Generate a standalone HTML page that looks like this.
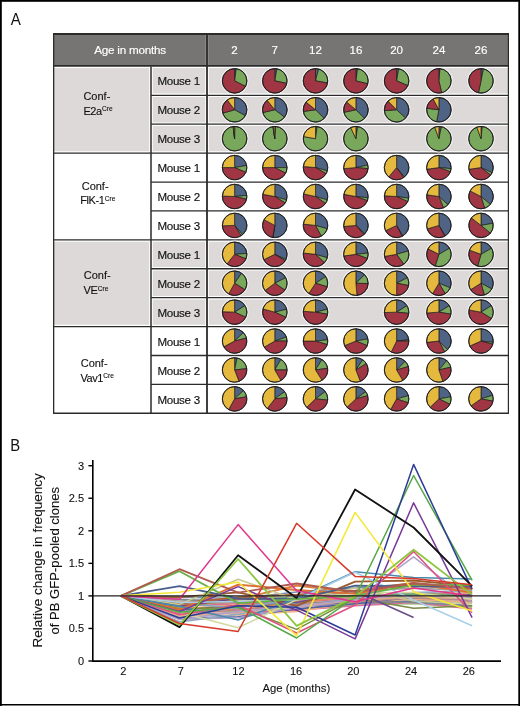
<!DOCTYPE html><html><head><meta charset="utf-8"><style>html,body{margin:0;padding:0;background:#fff}svg{display:block;will-change:transform}text{font-family:"Liberation Sans",sans-serif}</style></head><body>
<svg width="520" height="706" viewBox="0 0 520 706">
<rect x="0" y="0" width="520" height="706" fill="#fff"/>
<text transform="translate(10.8,24.6) scale(0.9,1)" font-size="16.8" fill="#111">A</text>
<rect x="53" y="66.40" width="456" height="86.73" fill="#dcd9d8"/>
<rect x="53" y="153.13" width="456" height="86.73" fill="#fff"/>
<rect x="53" y="239.86" width="456" height="86.73" fill="#dcd9d8"/>
<rect x="53" y="326.59" width="456" height="86.73" fill="#fff"/>
<line x1="151" y1="95.31" x2="509" y2="95.31" stroke="#fff" stroke-width="3.6"/>
<line x1="151" y1="124.22" x2="509" y2="124.22" stroke="#fff" stroke-width="3.6"/>
<line x1="53" y1="153.13" x2="509" y2="153.13" stroke="#fff" stroke-width="3.6"/>
<line x1="151" y1="182.04" x2="509" y2="182.04" stroke="#fff" stroke-width="3.6"/>
<line x1="151" y1="210.95" x2="509" y2="210.95" stroke="#fff" stroke-width="3.6"/>
<line x1="53" y1="239.86" x2="509" y2="239.86" stroke="#fff" stroke-width="3.6"/>
<line x1="151" y1="268.77" x2="509" y2="268.77" stroke="#fff" stroke-width="3.6"/>
<line x1="151" y1="297.68" x2="509" y2="297.68" stroke="#fff" stroke-width="3.6"/>
<line x1="53" y1="326.59" x2="509" y2="326.59" stroke="#fff" stroke-width="3.6"/>
<line x1="151" y1="355.50" x2="509" y2="355.50" stroke="#fff" stroke-width="3.6"/>
<line x1="151" y1="384.41" x2="509" y2="384.41" stroke="#fff" stroke-width="3.6"/>
<line x1="151" y1="66.40" x2="151" y2="413.32" stroke="#fff" stroke-width="3.6"/>
<line x1="207" y1="66.40" x2="207" y2="413.32" stroke="#fff" stroke-width="3.6"/>
<line x1="53" y1="66.30" x2="509" y2="66.30" stroke="#fff" stroke-width="3.6"/>
<rect x="53" y="33" width="456" height="32.900000000000006" fill="#777574"/>
<line x1="207" y1="33" x2="207" y2="65.9" stroke="#8a8887" stroke-width="4"/>
<line x1="151" y1="95.31" x2="509" y2="95.31" stroke="#2b2b2b" stroke-width="1.3"/>
<line x1="151" y1="124.22" x2="509" y2="124.22" stroke="#2b2b2b" stroke-width="1.3"/>
<line x1="53" y1="153.13" x2="509" y2="153.13" stroke="#2b2b2b" stroke-width="1.3"/>
<line x1="151" y1="182.04" x2="509" y2="182.04" stroke="#2b2b2b" stroke-width="1.3"/>
<line x1="151" y1="210.95" x2="509" y2="210.95" stroke="#2b2b2b" stroke-width="1.3"/>
<line x1="53" y1="239.86" x2="509" y2="239.86" stroke="#2b2b2b" stroke-width="1.3"/>
<line x1="151" y1="268.77" x2="509" y2="268.77" stroke="#2b2b2b" stroke-width="1.3"/>
<line x1="151" y1="297.68" x2="509" y2="297.68" stroke="#2b2b2b" stroke-width="1.3"/>
<line x1="53" y1="326.59" x2="509" y2="326.59" stroke="#2b2b2b" stroke-width="1.3"/>
<line x1="151" y1="355.50" x2="509" y2="355.50" stroke="#2b2b2b" stroke-width="1.3"/>
<line x1="151" y1="384.41" x2="509" y2="384.41" stroke="#2b2b2b" stroke-width="1.3"/>
<line x1="151" y1="66.4" x2="151" y2="413.32" stroke="#2b2b2b" stroke-width="1.5"/>
<line x1="207" y1="33" x2="207" y2="413.32" stroke="#2b2b2b" stroke-width="1.8"/>
<line x1="53" y1="65.9" x2="509" y2="65.9" stroke="#2b2b2b" stroke-width="1.8"/>
<line x1="53.65" y1="33" x2="53.65" y2="414" stroke="#2b2b2b" stroke-width="1.3"/>
<line x1="508.4" y1="33" x2="508.4" y2="414" stroke="#2b2b2b" stroke-width="1.2"/>
<line x1="53" y1="413.3" x2="509" y2="413.3" stroke="#2b2b2b" stroke-width="1.4"/>
<line x1="53" y1="34" x2="509" y2="34" stroke="#2b2b2b" stroke-width="2"/>
<text x="130" y="53.5" font-size="11.7" letter-spacing="-0.25" fill="#fff" stroke="#fff" stroke-width="0.15" text-anchor="middle">Age in months</text>
<text x="234.6" y="53.5" font-size="11.6" fill="#fff" stroke="#fff" stroke-width="0.15" text-anchor="middle">2</text>
<text x="274.8" y="53.5" font-size="11.6" fill="#fff" stroke="#fff" stroke-width="0.15" text-anchor="middle">7</text>
<text x="315.5" y="53.5" font-size="11.6" fill="#fff" stroke="#fff" stroke-width="0.15" text-anchor="middle">12</text>
<text x="355.9" y="53.5" font-size="11.6" fill="#fff" stroke="#fff" stroke-width="0.15" text-anchor="middle">16</text>
<text x="396.6" y="53.5" font-size="11.6" fill="#fff" stroke="#fff" stroke-width="0.15" text-anchor="middle">20</text>
<text x="438.9" y="53.5" font-size="11.6" fill="#fff" stroke="#fff" stroke-width="0.15" text-anchor="middle">24</text>
<text x="481.0" y="53.5" font-size="11.6" fill="#fff" stroke="#fff" stroke-width="0.15" text-anchor="middle">26</text>
<text x="178.6" y="84.70" font-size="11.6" letter-spacing="-0.3" fill="#111" stroke="#111" stroke-width="0.15" text-anchor="middle">Mouse 1</text>
<text x="178.6" y="113.69" font-size="11.6" letter-spacing="-0.3" fill="#111" stroke="#111" stroke-width="0.15" text-anchor="middle">Mouse 2</text>
<text x="178.6" y="142.68" font-size="11.6" letter-spacing="-0.3" fill="#111" stroke="#111" stroke-width="0.15" text-anchor="middle">Mouse 3</text>
<text x="178.6" y="171.67" font-size="11.6" letter-spacing="-0.3" fill="#111" stroke="#111" stroke-width="0.15" text-anchor="middle">Mouse 1</text>
<text x="178.6" y="200.66" font-size="11.6" letter-spacing="-0.3" fill="#111" stroke="#111" stroke-width="0.15" text-anchor="middle">Mouse 2</text>
<text x="178.6" y="229.65" font-size="11.6" letter-spacing="-0.3" fill="#111" stroke="#111" stroke-width="0.15" text-anchor="middle">Mouse 3</text>
<text x="178.6" y="258.64" font-size="11.6" letter-spacing="-0.3" fill="#111" stroke="#111" stroke-width="0.15" text-anchor="middle">Mouse 1</text>
<text x="178.6" y="287.63" font-size="11.6" letter-spacing="-0.3" fill="#111" stroke="#111" stroke-width="0.15" text-anchor="middle">Mouse 2</text>
<text x="178.6" y="316.62" font-size="11.6" letter-spacing="-0.3" fill="#111" stroke="#111" stroke-width="0.15" text-anchor="middle">Mouse 3</text>
<text x="178.6" y="345.61" font-size="11.6" letter-spacing="-0.3" fill="#111" stroke="#111" stroke-width="0.15" text-anchor="middle">Mouse 1</text>
<text x="178.6" y="374.60" font-size="11.6" letter-spacing="-0.3" fill="#111" stroke="#111" stroke-width="0.15" text-anchor="middle">Mouse 2</text>
<text x="178.6" y="403.59" font-size="11.6" letter-spacing="-0.3" fill="#111" stroke="#111" stroke-width="0.15" text-anchor="middle">Mouse 3</text>
<text x="83.4" y="99.9" font-size="11" fill="#111" stroke="#111" stroke-width="0.12">Conf-</text>
<text x="83.4" y="114.7" font-size="11" fill="#111" stroke="#111" stroke-width="0.12"><tspan letter-spacing="-0.45">E2a</tspan><tspan font-size="6.6" dy="-3.6" dx="0.4">Cre</tspan></text>
<text x="81.7" y="189.5" font-size="11" fill="#111" stroke="#111" stroke-width="0.12">Conf-</text>
<text x="80.3" y="204.3" font-size="11" fill="#111" stroke="#111" stroke-width="0.12"><tspan letter-spacing="-0.45">FlK-1</tspan><tspan font-size="6.6" dy="-3.6" dx="0.4">Cre</tspan></text>
<text x="83.8" y="278.8" font-size="11" fill="#111" stroke="#111" stroke-width="0.12">Conf-</text>
<text x="83.6" y="294.2" font-size="11" fill="#111" stroke="#111" stroke-width="0.12"><tspan letter-spacing="-0.45">VE</tspan><tspan font-size="6.6" dy="-3.6" dx="0.4">Cre</tspan></text>
<text x="80.7" y="366.7" font-size="11" fill="#111" stroke="#111" stroke-width="0.12">Conf-</text>
<text x="80.5" y="381.7" font-size="11" fill="#111" stroke="#111" stroke-width="0.12"><tspan letter-spacing="-0.45">Vav1</tspan><tspan font-size="6.6" dy="-3.6" dx="0.4">Cre</tspan></text>
<circle cx="234.6" cy="80.86" r="13.55" fill="none" stroke="#fff" stroke-width="1" opacity="0.6"/>
<path d="M234.60,80.86L234.60,68.61A12.25,12.25 0 0,1 236.30,68.72Z" fill="#4f6484" stroke="#1c1c1c" stroke-width="0.7" stroke-linejoin="round"/>
<path d="M234.60,80.86L236.30,68.72A12.25,12.25 0 0,1 245.51,86.42Z" fill="#79a85c" stroke="#1c1c1c" stroke-width="0.7" stroke-linejoin="round"/>
<path d="M234.60,80.86L245.51,86.42A12.25,12.25 0 1,1 234.60,68.61Z" fill="#a03644" stroke="#1c1c1c" stroke-width="0.7" stroke-linejoin="round"/>
<circle cx="234.6" cy="80.86" r="12.25" fill="none" stroke="#1c1c1c" stroke-width="0.95"/>
<circle cx="274.8" cy="80.86" r="13.55" fill="none" stroke="#fff" stroke-width="1" opacity="0.6"/>
<path d="M274.80,80.86L274.80,68.61A12.25,12.25 0 0,1 276.93,68.79Z" fill="#4f6484" stroke="#1c1c1c" stroke-width="0.7" stroke-linejoin="round"/>
<path d="M274.80,80.86L276.93,68.79A12.25,12.25 0 0,1 286.78,83.40Z" fill="#79a85c" stroke="#1c1c1c" stroke-width="0.7" stroke-linejoin="round"/>
<path d="M274.80,80.86L286.78,83.40A12.25,12.25 0 1,1 274.80,68.61Z" fill="#a03644" stroke="#1c1c1c" stroke-width="0.7" stroke-linejoin="round"/>
<circle cx="274.8" cy="80.86" r="12.25" fill="none" stroke="#1c1c1c" stroke-width="0.95"/>
<circle cx="315.5" cy="80.86" r="13.55" fill="none" stroke="#fff" stroke-width="1" opacity="0.6"/>
<path d="M315.50,80.86L315.50,68.61A12.25,12.25 0 0,1 318.67,69.02Z" fill="#4f6484" stroke="#1c1c1c" stroke-width="0.7" stroke-linejoin="round"/>
<path d="M315.50,80.86L318.67,69.02A12.25,12.25 0 0,1 327.56,82.98Z" fill="#79a85c" stroke="#1c1c1c" stroke-width="0.7" stroke-linejoin="round"/>
<path d="M315.50,80.86L327.56,82.98A12.25,12.25 0 1,1 315.50,68.61Z" fill="#a03644" stroke="#1c1c1c" stroke-width="0.7" stroke-linejoin="round"/>
<circle cx="315.5" cy="80.86" r="12.25" fill="none" stroke="#1c1c1c" stroke-width="0.95"/>
<circle cx="355.9" cy="80.86" r="13.55" fill="none" stroke="#fff" stroke-width="1" opacity="0.6"/>
<path d="M355.90,80.86L355.90,68.61A12.25,12.25 0 0,1 357.60,68.72Z" fill="#4f6484" stroke="#1c1c1c" stroke-width="0.7" stroke-linejoin="round"/>
<path d="M355.90,80.86L357.60,68.72A12.25,12.25 0 0,1 367.79,83.82Z" fill="#79a85c" stroke="#1c1c1c" stroke-width="0.7" stroke-linejoin="round"/>
<path d="M355.90,80.86L367.79,83.82A12.25,12.25 0 1,1 355.90,68.61Z" fill="#a03644" stroke="#1c1c1c" stroke-width="0.7" stroke-linejoin="round"/>
<circle cx="355.9" cy="80.86" r="12.25" fill="none" stroke="#1c1c1c" stroke-width="0.95"/>
<circle cx="396.6" cy="80.86" r="13.55" fill="none" stroke="#fff" stroke-width="1" opacity="0.6"/>
<path d="M396.60,80.86L396.60,68.61A12.25,12.25 0 0,1 398.73,68.79Z" fill="#4f6484" stroke="#1c1c1c" stroke-width="0.7" stroke-linejoin="round"/>
<path d="M396.60,80.86L398.73,68.79A12.25,12.25 0 0,1 407.88,85.64Z" fill="#79a85c" stroke="#1c1c1c" stroke-width="0.7" stroke-linejoin="round"/>
<path d="M396.60,80.86L407.88,85.64A12.25,12.25 0 1,1 396.60,68.61Z" fill="#a03644" stroke="#1c1c1c" stroke-width="0.7" stroke-linejoin="round"/>
<circle cx="396.6" cy="80.86" r="12.25" fill="none" stroke="#1c1c1c" stroke-width="0.95"/>
<circle cx="438.9" cy="80.86" r="13.55" fill="none" stroke="#fff" stroke-width="1" opacity="0.6"/>
<path d="M438.90,80.86L438.90,68.61A12.25,12.25 0 0,1 439.97,68.65Z" fill="#4f6484" stroke="#1c1c1c" stroke-width="0.7" stroke-linejoin="round"/>
<path d="M438.90,80.86L439.97,68.65A12.25,12.25 0 0,1 441.66,92.79Z" fill="#79a85c" stroke="#1c1c1c" stroke-width="0.7" stroke-linejoin="round"/>
<path d="M438.90,80.86L441.66,92.79A12.25,12.25 0 1,1 438.90,68.61Z" fill="#a03644" stroke="#1c1c1c" stroke-width="0.7" stroke-linejoin="round"/>
<circle cx="438.9" cy="80.86" r="12.25" fill="none" stroke="#1c1c1c" stroke-width="0.95"/>
<circle cx="481.0" cy="80.86" r="13.55" fill="none" stroke="#fff" stroke-width="1" opacity="0.6"/>
<path d="M481.00,80.86L481.00,68.61A12.25,12.25 0 0,1 483.55,68.87Z" fill="#4f6484" stroke="#1c1c1c" stroke-width="0.7" stroke-linejoin="round"/>
<path d="M481.00,80.86L483.55,68.87A12.25,12.25 0 0,1 478.45,92.84Z" fill="#79a85c" stroke="#1c1c1c" stroke-width="0.7" stroke-linejoin="round"/>
<path d="M481.00,80.86L478.45,92.84A12.25,12.25 0 0,1 481.00,68.61Z" fill="#a03644" stroke="#1c1c1c" stroke-width="0.7" stroke-linejoin="round"/>
<circle cx="481.0" cy="80.86" r="12.25" fill="none" stroke="#1c1c1c" stroke-width="0.95"/>
<circle cx="234.6" cy="109.77" r="13.55" fill="none" stroke="#fff" stroke-width="1" opacity="0.6"/>
<path d="M234.60,109.77L234.60,97.52A12.25,12.25 0 0,1 245.31,115.70Z" fill="#4f6484" stroke="#1c1c1c" stroke-width="0.7" stroke-linejoin="round"/>
<path d="M234.60,109.77L245.31,115.70A12.25,12.25 0 0,1 222.82,113.14Z" fill="#79a85c" stroke="#1c1c1c" stroke-width="0.7" stroke-linejoin="round"/>
<path d="M234.60,109.77L222.82,113.14A12.25,12.25 0 0,1 227.23,99.98Z" fill="#a03644" stroke="#1c1c1c" stroke-width="0.7" stroke-linejoin="round"/>
<path d="M234.60,109.77L227.23,99.98A12.25,12.25 0 0,1 234.60,97.52Z" fill="#e5b83e" stroke="#1c1c1c" stroke-width="0.7" stroke-linejoin="round"/>
<circle cx="234.6" cy="109.77" r="12.25" fill="none" stroke="#1c1c1c" stroke-width="0.95"/>
<circle cx="274.8" cy="109.77" r="13.55" fill="none" stroke="#fff" stroke-width="1" opacity="0.6"/>
<path d="M274.80,109.77L274.80,97.52A12.25,12.25 0 0,1 284.58,117.14Z" fill="#4f6484" stroke="#1c1c1c" stroke-width="0.7" stroke-linejoin="round"/>
<path d="M274.80,109.77L284.58,117.14A12.25,12.25 0 0,1 262.86,112.52Z" fill="#79a85c" stroke="#1c1c1c" stroke-width="0.7" stroke-linejoin="round"/>
<path d="M274.80,109.77L262.86,112.52A12.25,12.25 0 0,1 267.09,100.24Z" fill="#a03644" stroke="#1c1c1c" stroke-width="0.7" stroke-linejoin="round"/>
<path d="M274.80,109.77L267.09,100.24A12.25,12.25 0 0,1 274.80,97.52Z" fill="#e5b83e" stroke="#1c1c1c" stroke-width="0.7" stroke-linejoin="round"/>
<circle cx="274.8" cy="109.77" r="12.25" fill="none" stroke="#1c1c1c" stroke-width="0.95"/>
<circle cx="315.5" cy="109.77" r="13.55" fill="none" stroke="#fff" stroke-width="1" opacity="0.6"/>
<path d="M315.50,109.77L315.50,97.52A12.25,12.25 0 0,1 324.16,118.43Z" fill="#4f6484" stroke="#1c1c1c" stroke-width="0.7" stroke-linejoin="round"/>
<path d="M315.50,109.77L324.16,118.43A12.25,12.25 0 0,1 303.37,111.47Z" fill="#79a85c" stroke="#1c1c1c" stroke-width="0.7" stroke-linejoin="round"/>
<path d="M315.50,109.77L303.37,111.47A12.25,12.25 0 0,1 305.98,102.06Z" fill="#a03644" stroke="#1c1c1c" stroke-width="0.7" stroke-linejoin="round"/>
<path d="M315.50,109.77L305.98,102.06A12.25,12.25 0 0,1 315.50,97.52Z" fill="#e5b83e" stroke="#1c1c1c" stroke-width="0.7" stroke-linejoin="round"/>
<circle cx="315.5" cy="109.77" r="12.25" fill="none" stroke="#1c1c1c" stroke-width="0.95"/>
<circle cx="355.9" cy="109.77" r="13.55" fill="none" stroke="#fff" stroke-width="1" opacity="0.6"/>
<path d="M355.90,109.77L355.90,97.52A12.25,12.25 0 0,1 364.56,118.43Z" fill="#4f6484" stroke="#1c1c1c" stroke-width="0.7" stroke-linejoin="round"/>
<path d="M355.90,109.77L364.56,118.43A12.25,12.25 0 0,1 343.92,112.31Z" fill="#79a85c" stroke="#1c1c1c" stroke-width="0.7" stroke-linejoin="round"/>
<path d="M355.90,109.77L343.92,112.31A12.25,12.25 0 0,1 346.52,101.89Z" fill="#a03644" stroke="#1c1c1c" stroke-width="0.7" stroke-linejoin="round"/>
<path d="M355.90,109.77L346.52,101.89A12.25,12.25 0 0,1 355.90,97.52Z" fill="#e5b83e" stroke="#1c1c1c" stroke-width="0.7" stroke-linejoin="round"/>
<circle cx="355.9" cy="109.77" r="12.25" fill="none" stroke="#1c1c1c" stroke-width="0.95"/>
<circle cx="396.6" cy="109.77" r="13.55" fill="none" stroke="#fff" stroke-width="1" opacity="0.6"/>
<path d="M396.60,109.77L396.60,97.52A12.25,12.25 0 0,1 405.56,118.12Z" fill="#4f6484" stroke="#1c1c1c" stroke-width="0.7" stroke-linejoin="round"/>
<path d="M396.60,109.77L405.56,118.12A12.25,12.25 0 0,1 384.38,110.62Z" fill="#79a85c" stroke="#1c1c1c" stroke-width="0.7" stroke-linejoin="round"/>
<path d="M396.60,109.77L384.38,110.62A12.25,12.25 0 0,1 387.94,101.10Z" fill="#a03644" stroke="#1c1c1c" stroke-width="0.7" stroke-linejoin="round"/>
<path d="M396.60,109.77L387.94,101.10A12.25,12.25 0 0,1 396.60,97.52Z" fill="#e5b83e" stroke="#1c1c1c" stroke-width="0.7" stroke-linejoin="round"/>
<circle cx="396.6" cy="109.77" r="12.25" fill="none" stroke="#1c1c1c" stroke-width="0.95"/>
<circle cx="438.9" cy="109.77" r="13.55" fill="none" stroke="#fff" stroke-width="1" opacity="0.6"/>
<path d="M438.90,109.77L438.90,97.52A12.25,12.25 0 1,1 436.56,121.79Z" fill="#4f6484" stroke="#1c1c1c" stroke-width="0.7" stroke-linejoin="round"/>
<path d="M438.90,109.77L436.56,121.79A12.25,12.25 0 0,1 426.74,108.27Z" fill="#79a85c" stroke="#1c1c1c" stroke-width="0.7" stroke-linejoin="round"/>
<path d="M438.90,109.77L426.74,108.27A12.25,12.25 0 0,1 433.15,98.95Z" fill="#a03644" stroke="#1c1c1c" stroke-width="0.7" stroke-linejoin="round"/>
<path d="M438.90,109.77L433.15,98.95A12.25,12.25 0 0,1 438.90,97.52Z" fill="#e5b83e" stroke="#1c1c1c" stroke-width="0.7" stroke-linejoin="round"/>
<circle cx="438.9" cy="109.77" r="12.25" fill="none" stroke="#1c1c1c" stroke-width="0.95"/>
<circle cx="234.6" cy="138.68" r="13.55" fill="none" stroke="#fff" stroke-width="1" opacity="0.6"/>
<path d="M234.60,138.68L234.60,126.43A12.25,12.25 0 0,1 234.92,126.43Z" fill="#4f6484" stroke="#1c1c1c" stroke-width="0.7" stroke-linejoin="round"/>
<path d="M234.60,138.68L234.92,126.43A12.25,12.25 0 1,1 233.11,126.52Z" fill="#79a85c" stroke="#1c1c1c" stroke-width="0.7" stroke-linejoin="round"/>
<path d="M234.60,138.68L233.11,126.52A12.25,12.25 0 0,1 233.43,126.48Z" fill="#a03644" stroke="#1c1c1c" stroke-width="0.7" stroke-linejoin="round"/>
<path d="M234.60,138.68L233.43,126.48A12.25,12.25 0 0,1 234.60,126.43Z" fill="#e5b83e" stroke="#1c1c1c" stroke-width="0.7" stroke-linejoin="round"/>
<circle cx="234.6" cy="138.68" r="12.25" fill="none" stroke="#1c1c1c" stroke-width="0.95"/>
<circle cx="274.8" cy="138.68" r="13.55" fill="none" stroke="#fff" stroke-width="1" opacity="0.6"/>
<path d="M274.80,138.68L274.80,126.43A12.25,12.25 0 0,1 275.65,126.45Z" fill="#4f6484" stroke="#1c1c1c" stroke-width="0.7" stroke-linejoin="round"/>
<path d="M274.80,138.68L275.65,126.45A12.25,12.25 0 1,1 272.88,126.58Z" fill="#79a85c" stroke="#1c1c1c" stroke-width="0.7" stroke-linejoin="round"/>
<path d="M274.80,138.68L272.88,126.58A12.25,12.25 0 0,1 273.31,126.52Z" fill="#a03644" stroke="#1c1c1c" stroke-width="0.7" stroke-linejoin="round"/>
<path d="M274.80,138.68L273.31,126.52A12.25,12.25 0 0,1 274.80,126.43Z" fill="#e5b83e" stroke="#1c1c1c" stroke-width="0.7" stroke-linejoin="round"/>
<circle cx="274.8" cy="138.68" r="12.25" fill="none" stroke="#1c1c1c" stroke-width="0.95"/>
<circle cx="315.5" cy="138.68" r="13.55" fill="none" stroke="#fff" stroke-width="1" opacity="0.6"/>
<path d="M315.50,138.68L315.50,126.43A12.25,12.25 0 0,1 317.20,126.54Z" fill="#4f6484" stroke="#1c1c1c" stroke-width="0.7" stroke-linejoin="round"/>
<path d="M315.50,138.68L317.20,126.54A12.25,12.25 0 1,1 303.44,136.55Z" fill="#79a85c" stroke="#1c1c1c" stroke-width="0.7" stroke-linejoin="round"/>
<path d="M315.50,138.68L303.44,136.55A12.25,12.25 0 0,1 315.50,126.43Z" fill="#e5b83e" stroke="#1c1c1c" stroke-width="0.7" stroke-linejoin="round"/>
<circle cx="315.5" cy="138.68" r="12.25" fill="none" stroke="#1c1c1c" stroke-width="0.95"/>
<circle cx="355.9" cy="138.68" r="13.55" fill="none" stroke="#fff" stroke-width="1" opacity="0.6"/>
<path d="M355.90,138.68L355.90,126.43A12.25,12.25 0 0,1 357.60,126.54Z" fill="#4f6484" stroke="#1c1c1c" stroke-width="0.7" stroke-linejoin="round"/>
<path d="M355.90,138.68L357.60,126.54A12.25,12.25 0 1,1 350.72,127.57Z" fill="#79a85c" stroke="#1c1c1c" stroke-width="0.7" stroke-linejoin="round"/>
<path d="M355.90,138.68L350.72,127.57A12.25,12.25 0 0,1 355.90,126.43Z" fill="#e5b83e" stroke="#1c1c1c" stroke-width="0.7" stroke-linejoin="round"/>
<circle cx="355.9" cy="138.68" r="12.25" fill="none" stroke="#1c1c1c" stroke-width="0.95"/>
<circle cx="438.9" cy="138.68" r="13.55" fill="none" stroke="#fff" stroke-width="1" opacity="0.6"/>
<path d="M438.90,138.68L438.90,126.43A12.25,12.25 0 0,1 441.45,126.69Z" fill="#4f6484" stroke="#1c1c1c" stroke-width="0.7" stroke-linejoin="round"/>
<path d="M438.90,138.68L441.45,126.69A12.25,12.25 0 1,1 434.71,127.16Z" fill="#79a85c" stroke="#1c1c1c" stroke-width="0.7" stroke-linejoin="round"/>
<path d="M438.90,138.68L434.71,127.16A12.25,12.25 0 0,1 438.90,126.43Z" fill="#e5b83e" stroke="#1c1c1c" stroke-width="0.7" stroke-linejoin="round"/>
<circle cx="438.9" cy="138.68" r="12.25" fill="none" stroke="#1c1c1c" stroke-width="0.95"/>
<circle cx="481.0" cy="138.68" r="13.55" fill="none" stroke="#fff" stroke-width="1" opacity="0.6"/>
<path d="M481.00,138.68L481.00,126.43A12.25,12.25 0 0,1 482.28,126.49Z" fill="#4f6484" stroke="#1c1c1c" stroke-width="0.7" stroke-linejoin="round"/>
<path d="M481.00,138.68L482.28,126.49A12.25,12.25 0 1,1 476.81,127.16Z" fill="#79a85c" stroke="#1c1c1c" stroke-width="0.7" stroke-linejoin="round"/>
<path d="M481.00,138.68L476.81,127.16A12.25,12.25 0 0,1 481.00,126.43Z" fill="#e5b83e" stroke="#1c1c1c" stroke-width="0.7" stroke-linejoin="round"/>
<circle cx="481.0" cy="138.68" r="12.25" fill="none" stroke="#1c1c1c" stroke-width="0.95"/>
<circle cx="234.6" cy="167.59" r="13.55" fill="none" stroke="#fff" stroke-width="1" opacity="0.6"/>
<path d="M234.60,167.59L234.60,155.34A12.25,12.25 0 0,1 246.66,165.46Z" fill="#4f6484" stroke="#1c1c1c" stroke-width="0.7" stroke-linejoin="round"/>
<path d="M234.60,167.59L246.66,165.46A12.25,12.25 0 0,1 245.88,172.37Z" fill="#79a85c" stroke="#1c1c1c" stroke-width="0.7" stroke-linejoin="round"/>
<path d="M234.60,167.59L245.88,172.37A12.25,12.25 0 0,1 222.35,167.59Z" fill="#a03644" stroke="#1c1c1c" stroke-width="0.7" stroke-linejoin="round"/>
<path d="M234.60,167.59L222.35,167.59A12.25,12.25 0 0,1 234.60,155.34Z" fill="#e5b83e" stroke="#1c1c1c" stroke-width="0.7" stroke-linejoin="round"/>
<circle cx="234.6" cy="167.59" r="12.25" fill="none" stroke="#1c1c1c" stroke-width="0.95"/>
<circle cx="274.8" cy="167.59" r="13.55" fill="none" stroke="#fff" stroke-width="1" opacity="0.6"/>
<path d="M274.80,167.59L274.80,155.34A12.25,12.25 0 0,1 287.05,167.59Z" fill="#4f6484" stroke="#1c1c1c" stroke-width="0.7" stroke-linejoin="round"/>
<path d="M274.80,167.59L287.05,167.59A12.25,12.25 0 0,1 285.71,173.15Z" fill="#79a85c" stroke="#1c1c1c" stroke-width="0.7" stroke-linejoin="round"/>
<path d="M274.80,167.59L285.71,173.15A12.25,12.25 0 0,1 262.55,167.59Z" fill="#a03644" stroke="#1c1c1c" stroke-width="0.7" stroke-linejoin="round"/>
<path d="M274.80,167.59L262.55,167.59A12.25,12.25 0 0,1 274.80,155.34Z" fill="#e5b83e" stroke="#1c1c1c" stroke-width="0.7" stroke-linejoin="round"/>
<circle cx="274.8" cy="167.59" r="12.25" fill="none" stroke="#1c1c1c" stroke-width="0.95"/>
<circle cx="315.5" cy="167.59" r="13.55" fill="none" stroke="#fff" stroke-width="1" opacity="0.6"/>
<path d="M315.50,167.59L315.50,155.34A12.25,12.25 0 0,1 327.33,170.76Z" fill="#4f6484" stroke="#1c1c1c" stroke-width="0.7" stroke-linejoin="round"/>
<path d="M315.50,167.59L327.33,170.76A12.25,12.25 0 0,1 326.11,173.71Z" fill="#79a85c" stroke="#1c1c1c" stroke-width="0.7" stroke-linejoin="round"/>
<path d="M315.50,167.59L326.11,173.71A12.25,12.25 0 0,1 303.30,166.52Z" fill="#a03644" stroke="#1c1c1c" stroke-width="0.7" stroke-linejoin="round"/>
<path d="M315.50,167.59L303.30,166.52A12.25,12.25 0 0,1 315.50,155.34Z" fill="#e5b83e" stroke="#1c1c1c" stroke-width="0.7" stroke-linejoin="round"/>
<circle cx="315.5" cy="167.59" r="12.25" fill="none" stroke="#1c1c1c" stroke-width="0.95"/>
<circle cx="355.9" cy="167.59" r="13.55" fill="none" stroke="#fff" stroke-width="1" opacity="0.6"/>
<path d="M355.90,167.59L355.90,155.34A12.25,12.25 0 0,1 367.88,165.04Z" fill="#4f6484" stroke="#1c1c1c" stroke-width="0.7" stroke-linejoin="round"/>
<path d="M355.90,167.59L367.88,165.04A12.25,12.25 0 0,1 368.10,168.65Z" fill="#79a85c" stroke="#1c1c1c" stroke-width="0.7" stroke-linejoin="round"/>
<path d="M355.90,167.59L368.10,168.65A12.25,12.25 0 0,1 343.70,168.65Z" fill="#a03644" stroke="#1c1c1c" stroke-width="0.7" stroke-linejoin="round"/>
<path d="M355.90,167.59L343.70,168.65A12.25,12.25 0 0,1 355.90,155.34Z" fill="#e5b83e" stroke="#1c1c1c" stroke-width="0.7" stroke-linejoin="round"/>
<circle cx="355.9" cy="167.59" r="12.25" fill="none" stroke="#1c1c1c" stroke-width="0.95"/>
<circle cx="396.6" cy="167.59" r="13.55" fill="none" stroke="#fff" stroke-width="1" opacity="0.6"/>
<path d="M396.60,167.59L396.60,155.34A12.25,12.25 0 0,1 404.47,176.97Z" fill="#4f6484" stroke="#1c1c1c" stroke-width="0.7" stroke-linejoin="round"/>
<path d="M396.60,167.59L404.47,176.97A12.25,12.25 0 0,1 403.63,177.62Z" fill="#79a85c" stroke="#1c1c1c" stroke-width="0.7" stroke-linejoin="round"/>
<path d="M396.60,167.59L403.63,177.62A12.25,12.25 0 0,1 388.73,176.97Z" fill="#a03644" stroke="#1c1c1c" stroke-width="0.7" stroke-linejoin="round"/>
<path d="M396.60,167.59L388.73,176.97A12.25,12.25 0 0,1 396.60,155.34Z" fill="#e5b83e" stroke="#1c1c1c" stroke-width="0.7" stroke-linejoin="round"/>
<circle cx="396.6" cy="167.59" r="12.25" fill="none" stroke="#1c1c1c" stroke-width="0.95"/>
<circle cx="438.9" cy="167.59" r="13.55" fill="none" stroke="#fff" stroke-width="1" opacity="0.6"/>
<path d="M438.90,167.59L438.90,155.34A12.25,12.25 0 0,1 451.10,168.65Z" fill="#4f6484" stroke="#1c1c1c" stroke-width="0.7" stroke-linejoin="round"/>
<path d="M438.90,167.59L451.10,168.65A12.25,12.25 0 0,1 450.41,171.77Z" fill="#79a85c" stroke="#1c1c1c" stroke-width="0.7" stroke-linejoin="round"/>
<path d="M438.90,167.59L450.41,171.77A12.25,12.25 0 0,1 426.77,169.29Z" fill="#a03644" stroke="#1c1c1c" stroke-width="0.7" stroke-linejoin="round"/>
<path d="M438.90,167.59L426.77,169.29A12.25,12.25 0 0,1 438.90,155.34Z" fill="#e5b83e" stroke="#1c1c1c" stroke-width="0.7" stroke-linejoin="round"/>
<circle cx="438.9" cy="167.59" r="12.25" fill="none" stroke="#1c1c1c" stroke-width="0.95"/>
<circle cx="481.0" cy="167.59" r="13.55" fill="none" stroke="#fff" stroke-width="1" opacity="0.6"/>
<path d="M481.00,167.59L481.00,155.34A12.25,12.25 0 0,1 492.10,172.76Z" fill="#4f6484" stroke="#1c1c1c" stroke-width="0.7" stroke-linejoin="round"/>
<path d="M481.00,167.59L492.10,172.76A12.25,12.25 0 0,1 490.65,175.13Z" fill="#79a85c" stroke="#1c1c1c" stroke-width="0.7" stroke-linejoin="round"/>
<path d="M481.00,167.59L490.65,175.13A12.25,12.25 0 0,1 468.87,169.29Z" fill="#a03644" stroke="#1c1c1c" stroke-width="0.7" stroke-linejoin="round"/>
<path d="M481.00,167.59L468.87,169.29A12.25,12.25 0 0,1 481.00,155.34Z" fill="#e5b83e" stroke="#1c1c1c" stroke-width="0.7" stroke-linejoin="round"/>
<circle cx="481.0" cy="167.59" r="12.25" fill="none" stroke="#1c1c1c" stroke-width="0.95"/>
<circle cx="234.6" cy="196.50" r="13.55" fill="none" stroke="#fff" stroke-width="1" opacity="0.6"/>
<path d="M234.60,196.50L234.60,184.25A12.25,12.25 0 0,1 246.80,195.43Z" fill="#4f6484" stroke="#1c1c1c" stroke-width="0.7" stroke-linejoin="round"/>
<path d="M234.60,196.50L246.80,195.43A12.25,12.25 0 0,1 246.54,199.25Z" fill="#79a85c" stroke="#1c1c1c" stroke-width="0.7" stroke-linejoin="round"/>
<path d="M234.60,196.50L246.54,199.25A12.25,12.25 0 0,1 222.36,196.07Z" fill="#a03644" stroke="#1c1c1c" stroke-width="0.7" stroke-linejoin="round"/>
<path d="M234.60,196.50L222.36,196.07A12.25,12.25 0 0,1 234.60,184.25Z" fill="#e5b83e" stroke="#1c1c1c" stroke-width="0.7" stroke-linejoin="round"/>
<circle cx="234.6" cy="196.50" r="12.25" fill="none" stroke="#1c1c1c" stroke-width="0.95"/>
<circle cx="274.8" cy="196.50" r="13.55" fill="none" stroke="#fff" stroke-width="1" opacity="0.6"/>
<path d="M274.80,196.50L274.80,184.25A12.25,12.25 0 0,1 286.58,199.87Z" fill="#4f6484" stroke="#1c1c1c" stroke-width="0.7" stroke-linejoin="round"/>
<path d="M274.80,196.50L286.58,199.87A12.25,12.25 0 0,1 285.19,202.99Z" fill="#79a85c" stroke="#1c1c1c" stroke-width="0.7" stroke-linejoin="round"/>
<path d="M274.80,196.50L285.19,202.99A12.25,12.25 0 0,1 262.74,194.37Z" fill="#a03644" stroke="#1c1c1c" stroke-width="0.7" stroke-linejoin="round"/>
<path d="M274.80,196.50L262.74,194.37A12.25,12.25 0 0,1 274.80,184.25Z" fill="#e5b83e" stroke="#1c1c1c" stroke-width="0.7" stroke-linejoin="round"/>
<circle cx="274.8" cy="196.50" r="12.25" fill="none" stroke="#1c1c1c" stroke-width="0.95"/>
<circle cx="315.5" cy="196.50" r="13.55" fill="none" stroke="#fff" stroke-width="1" opacity="0.6"/>
<path d="M315.50,196.50L315.50,184.25A12.25,12.25 0 0,1 327.28,199.87Z" fill="#4f6484" stroke="#1c1c1c" stroke-width="0.7" stroke-linejoin="round"/>
<path d="M315.50,196.50L327.28,199.87A12.25,12.25 0 0,1 325.53,203.52Z" fill="#79a85c" stroke="#1c1c1c" stroke-width="0.7" stroke-linejoin="round"/>
<path d="M315.50,196.50L325.53,203.52A12.25,12.25 0 0,1 303.52,193.95Z" fill="#a03644" stroke="#1c1c1c" stroke-width="0.7" stroke-linejoin="round"/>
<path d="M315.50,196.50L303.52,193.95A12.25,12.25 0 0,1 315.50,184.25Z" fill="#e5b83e" stroke="#1c1c1c" stroke-width="0.7" stroke-linejoin="round"/>
<circle cx="315.5" cy="196.50" r="12.25" fill="none" stroke="#1c1c1c" stroke-width="0.95"/>
<circle cx="355.9" cy="196.50" r="13.55" fill="none" stroke="#fff" stroke-width="1" opacity="0.6"/>
<path d="M355.90,196.50L355.90,184.25A12.25,12.25 0 0,1 368.08,197.78Z" fill="#4f6484" stroke="#1c1c1c" stroke-width="0.7" stroke-linejoin="round"/>
<path d="M355.90,196.50L368.08,197.78A12.25,12.25 0 0,1 367.41,200.68Z" fill="#79a85c" stroke="#1c1c1c" stroke-width="0.7" stroke-linejoin="round"/>
<path d="M355.90,196.50L367.41,200.68A12.25,12.25 0 0,1 343.84,194.37Z" fill="#a03644" stroke="#1c1c1c" stroke-width="0.7" stroke-linejoin="round"/>
<path d="M355.90,196.50L343.84,194.37A12.25,12.25 0 0,1 355.90,184.25Z" fill="#e5b83e" stroke="#1c1c1c" stroke-width="0.7" stroke-linejoin="round"/>
<circle cx="355.9" cy="196.50" r="12.25" fill="none" stroke="#1c1c1c" stroke-width="0.95"/>
<circle cx="396.6" cy="196.50" r="13.55" fill="none" stroke="#fff" stroke-width="1" opacity="0.6"/>
<path d="M396.60,196.50L396.60,184.25A12.25,12.25 0 0,1 408.73,198.20Z" fill="#4f6484" stroke="#1c1c1c" stroke-width="0.7" stroke-linejoin="round"/>
<path d="M396.60,196.50L408.73,198.20A12.25,12.25 0 0,1 407.70,201.67Z" fill="#79a85c" stroke="#1c1c1c" stroke-width="0.7" stroke-linejoin="round"/>
<path d="M396.60,196.50L407.70,201.67A12.25,12.25 0 0,1 384.37,195.85Z" fill="#a03644" stroke="#1c1c1c" stroke-width="0.7" stroke-linejoin="round"/>
<path d="M396.60,196.50L384.37,195.85A12.25,12.25 0 0,1 396.60,184.25Z" fill="#e5b83e" stroke="#1c1c1c" stroke-width="0.7" stroke-linejoin="round"/>
<circle cx="396.6" cy="196.50" r="12.25" fill="none" stroke="#1c1c1c" stroke-width="0.95"/>
<circle cx="438.9" cy="196.50" r="13.55" fill="none" stroke="#fff" stroke-width="1" opacity="0.6"/>
<path d="M438.90,196.50L438.90,184.25A12.25,12.25 0 0,1 448.00,204.69Z" fill="#4f6484" stroke="#1c1c1c" stroke-width="0.7" stroke-linejoin="round"/>
<path d="M438.90,196.50L448.00,204.69A12.25,12.25 0 0,1 443.49,207.85Z" fill="#79a85c" stroke="#1c1c1c" stroke-width="0.7" stroke-linejoin="round"/>
<path d="M438.90,196.50L443.49,207.85A12.25,12.25 0 0,1 426.77,194.79Z" fill="#a03644" stroke="#1c1c1c" stroke-width="0.7" stroke-linejoin="round"/>
<path d="M438.90,196.50L426.77,194.79A12.25,12.25 0 0,1 438.90,184.25Z" fill="#e5b83e" stroke="#1c1c1c" stroke-width="0.7" stroke-linejoin="round"/>
<circle cx="438.9" cy="196.50" r="12.25" fill="none" stroke="#1c1c1c" stroke-width="0.95"/>
<circle cx="481.0" cy="196.50" r="13.55" fill="none" stroke="#fff" stroke-width="1" opacity="0.6"/>
<path d="M481.00,196.50L481.00,184.25A12.25,12.25 0 0,1 490.38,204.37Z" fill="#4f6484" stroke="#1c1c1c" stroke-width="0.7" stroke-linejoin="round"/>
<path d="M481.00,196.50L490.38,204.37A12.25,12.25 0 0,1 484.58,208.21Z" fill="#79a85c" stroke="#1c1c1c" stroke-width="0.7" stroke-linejoin="round"/>
<path d="M481.00,196.50L484.58,208.21A12.25,12.25 0 0,1 470.09,190.93Z" fill="#a03644" stroke="#1c1c1c" stroke-width="0.7" stroke-linejoin="round"/>
<path d="M481.00,196.50L470.09,190.93A12.25,12.25 0 0,1 481.00,184.25Z" fill="#e5b83e" stroke="#1c1c1c" stroke-width="0.7" stroke-linejoin="round"/>
<circle cx="481.0" cy="196.50" r="12.25" fill="none" stroke="#1c1c1c" stroke-width="0.95"/>
<circle cx="234.6" cy="225.41" r="13.55" fill="none" stroke="#fff" stroke-width="1" opacity="0.6"/>
<path d="M234.60,225.41L234.60,213.16A12.25,12.25 0 0,1 242.64,234.65Z" fill="#4f6484" stroke="#1c1c1c" stroke-width="0.7" stroke-linejoin="round"/>
<path d="M234.60,225.41L242.64,234.65A12.25,12.25 0 0,1 241.09,235.79Z" fill="#79a85c" stroke="#1c1c1c" stroke-width="0.7" stroke-linejoin="round"/>
<path d="M234.60,225.41L241.09,235.79A12.25,12.25 0 0,1 222.36,225.83Z" fill="#a03644" stroke="#1c1c1c" stroke-width="0.7" stroke-linejoin="round"/>
<path d="M234.60,225.41L222.36,225.83A12.25,12.25 0 0,1 234.60,213.16Z" fill="#e5b83e" stroke="#1c1c1c" stroke-width="0.7" stroke-linejoin="round"/>
<circle cx="234.6" cy="225.41" r="12.25" fill="none" stroke="#1c1c1c" stroke-width="0.95"/>
<circle cx="274.8" cy="225.41" r="13.55" fill="none" stroke="#fff" stroke-width="1" opacity="0.6"/>
<path d="M274.80,225.41L274.80,213.16A12.25,12.25 0 1,1 272.88,237.50Z" fill="#4f6484" stroke="#1c1c1c" stroke-width="0.7" stroke-linejoin="round"/>
<path d="M274.80,225.41L272.88,237.50A12.25,12.25 0 0,1 272.67,237.47Z" fill="#79a85c" stroke="#1c1c1c" stroke-width="0.7" stroke-linejoin="round"/>
<path d="M274.80,225.41L272.67,237.47A12.25,12.25 0 0,1 263.98,219.65Z" fill="#a03644" stroke="#1c1c1c" stroke-width="0.7" stroke-linejoin="round"/>
<path d="M274.80,225.41L263.98,219.65A12.25,12.25 0 0,1 274.80,213.16Z" fill="#e5b83e" stroke="#1c1c1c" stroke-width="0.7" stroke-linejoin="round"/>
<circle cx="274.8" cy="225.41" r="12.25" fill="none" stroke="#1c1c1c" stroke-width="0.95"/>
<circle cx="315.5" cy="225.41" r="13.55" fill="none" stroke="#fff" stroke-width="1" opacity="0.6"/>
<path d="M315.50,225.41L315.50,213.16A12.25,12.25 0 0,1 327.28,228.78Z" fill="#4f6484" stroke="#1c1c1c" stroke-width="0.7" stroke-linejoin="round"/>
<path d="M315.50,225.41L327.28,228.78A12.25,12.25 0 0,1 321.25,236.22Z" fill="#79a85c" stroke="#1c1c1c" stroke-width="0.7" stroke-linejoin="round"/>
<path d="M315.50,225.41L321.25,236.22A12.25,12.25 0 0,1 303.32,224.12Z" fill="#a03644" stroke="#1c1c1c" stroke-width="0.7" stroke-linejoin="round"/>
<path d="M315.50,225.41L303.32,224.12A12.25,12.25 0 0,1 315.50,213.16Z" fill="#e5b83e" stroke="#1c1c1c" stroke-width="0.7" stroke-linejoin="round"/>
<circle cx="315.5" cy="225.41" r="12.25" fill="none" stroke="#1c1c1c" stroke-width="0.95"/>
<circle cx="355.9" cy="225.41" r="13.55" fill="none" stroke="#fff" stroke-width="1" opacity="0.6"/>
<path d="M355.90,225.41L355.90,213.16A12.25,12.25 0 0,1 364.86,233.76Z" fill="#4f6484" stroke="#1c1c1c" stroke-width="0.7" stroke-linejoin="round"/>
<path d="M355.90,225.41L364.86,233.76A12.25,12.25 0 0,1 364.10,234.51Z" fill="#79a85c" stroke="#1c1c1c" stroke-width="0.7" stroke-linejoin="round"/>
<path d="M355.90,225.41L364.10,234.51A12.25,12.25 0 0,1 343.70,226.47Z" fill="#a03644" stroke="#1c1c1c" stroke-width="0.7" stroke-linejoin="round"/>
<path d="M355.90,225.41L343.70,226.47A12.25,12.25 0 0,1 355.90,213.16Z" fill="#e5b83e" stroke="#1c1c1c" stroke-width="0.7" stroke-linejoin="round"/>
<circle cx="355.9" cy="225.41" r="12.25" fill="none" stroke="#1c1c1c" stroke-width="0.95"/>
<circle cx="396.6" cy="225.41" r="13.55" fill="none" stroke="#fff" stroke-width="1" opacity="0.6"/>
<path d="M396.60,225.41L396.60,213.16A12.25,12.25 0 0,1 402.73,236.01Z" fill="#4f6484" stroke="#1c1c1c" stroke-width="0.7" stroke-linejoin="round"/>
<path d="M396.60,225.41L402.73,236.01A12.25,12.25 0 0,1 402.16,236.32Z" fill="#79a85c" stroke="#1c1c1c" stroke-width="0.7" stroke-linejoin="round"/>
<path d="M396.60,225.41L402.16,236.32A12.25,12.25 0 0,1 385.59,230.78Z" fill="#a03644" stroke="#1c1c1c" stroke-width="0.7" stroke-linejoin="round"/>
<path d="M396.60,225.41L385.59,230.78A12.25,12.25 0 0,1 396.60,213.16Z" fill="#e5b83e" stroke="#1c1c1c" stroke-width="0.7" stroke-linejoin="round"/>
<circle cx="396.6" cy="225.41" r="12.25" fill="none" stroke="#1c1c1c" stroke-width="0.95"/>
<circle cx="438.9" cy="225.41" r="13.55" fill="none" stroke="#fff" stroke-width="1" opacity="0.6"/>
<path d="M438.90,225.41L438.90,213.16A12.25,12.25 0 0,1 445.39,235.79Z" fill="#4f6484" stroke="#1c1c1c" stroke-width="0.7" stroke-linejoin="round"/>
<path d="M438.90,225.41L445.39,235.79A12.25,12.25 0 0,1 444.65,236.22Z" fill="#79a85c" stroke="#1c1c1c" stroke-width="0.7" stroke-linejoin="round"/>
<path d="M438.90,225.41L444.65,236.22A12.25,12.25 0 0,1 427.19,228.99Z" fill="#a03644" stroke="#1c1c1c" stroke-width="0.7" stroke-linejoin="round"/>
<path d="M438.90,225.41L427.19,228.99A12.25,12.25 0 0,1 438.90,213.16Z" fill="#e5b83e" stroke="#1c1c1c" stroke-width="0.7" stroke-linejoin="round"/>
<circle cx="438.9" cy="225.41" r="12.25" fill="none" stroke="#1c1c1c" stroke-width="0.95"/>
<circle cx="481.0" cy="225.41" r="13.55" fill="none" stroke="#fff" stroke-width="1" opacity="0.6"/>
<path d="M481.00,225.41L481.00,213.16A12.25,12.25 0 0,1 493.06,223.28Z" fill="#4f6484" stroke="#1c1c1c" stroke-width="0.7" stroke-linejoin="round"/>
<path d="M481.00,225.41L493.06,223.28A12.25,12.25 0 0,1 490.38,233.28Z" fill="#79a85c" stroke="#1c1c1c" stroke-width="0.7" stroke-linejoin="round"/>
<path d="M481.00,225.41L490.38,233.28A12.25,12.25 0 0,1 471.35,217.86Z" fill="#a03644" stroke="#1c1c1c" stroke-width="0.7" stroke-linejoin="round"/>
<path d="M481.00,225.41L471.35,217.86A12.25,12.25 0 0,1 481.00,213.16Z" fill="#e5b83e" stroke="#1c1c1c" stroke-width="0.7" stroke-linejoin="round"/>
<circle cx="481.0" cy="225.41" r="12.25" fill="none" stroke="#1c1c1c" stroke-width="0.95"/>
<circle cx="234.6" cy="254.32" r="13.55" fill="none" stroke="#fff" stroke-width="1" opacity="0.6"/>
<path d="M234.60,254.32L234.60,242.07A12.25,12.25 0 0,1 246.82,253.46Z" fill="#4f6484" stroke="#1c1c1c" stroke-width="0.7" stroke-linejoin="round"/>
<path d="M234.60,254.32L246.82,253.46A12.25,12.25 0 0,1 245.96,258.90Z" fill="#79a85c" stroke="#1c1c1c" stroke-width="0.7" stroke-linejoin="round"/>
<path d="M234.60,254.32L245.96,258.90A12.25,12.25 0 0,1 227.06,263.97Z" fill="#a03644" stroke="#1c1c1c" stroke-width="0.7" stroke-linejoin="round"/>
<path d="M234.60,254.32L227.06,263.97A12.25,12.25 0 0,1 234.60,242.07Z" fill="#e5b83e" stroke="#1c1c1c" stroke-width="0.7" stroke-linejoin="round"/>
<circle cx="234.6" cy="254.32" r="12.25" fill="none" stroke="#1c1c1c" stroke-width="0.95"/>
<circle cx="274.8" cy="254.32" r="13.55" fill="none" stroke="#fff" stroke-width="1" opacity="0.6"/>
<path d="M274.80,254.32L274.80,242.07A12.25,12.25 0 0,1 285.90,259.49Z" fill="#4f6484" stroke="#1c1c1c" stroke-width="0.7" stroke-linejoin="round"/>
<path d="M274.80,254.32L285.90,259.49A12.25,12.25 0 0,1 285.19,260.81Z" fill="#79a85c" stroke="#1c1c1c" stroke-width="0.7" stroke-linejoin="round"/>
<path d="M274.80,254.32L285.19,260.81A12.25,12.25 0 0,1 263.79,259.69Z" fill="#a03644" stroke="#1c1c1c" stroke-width="0.7" stroke-linejoin="round"/>
<path d="M274.80,254.32L263.79,259.69A12.25,12.25 0 0,1 274.80,242.07Z" fill="#e5b83e" stroke="#1c1c1c" stroke-width="0.7" stroke-linejoin="round"/>
<circle cx="274.8" cy="254.32" r="12.25" fill="none" stroke="#1c1c1c" stroke-width="0.95"/>
<circle cx="315.5" cy="254.32" r="13.55" fill="none" stroke="#fff" stroke-width="1" opacity="0.6"/>
<path d="M315.50,254.32L315.50,242.07A12.25,12.25 0 0,1 327.28,257.69Z" fill="#4f6484" stroke="#1c1c1c" stroke-width="0.7" stroke-linejoin="round"/>
<path d="M315.50,254.32L327.28,257.69A12.25,12.25 0 0,1 324.46,262.67Z" fill="#79a85c" stroke="#1c1c1c" stroke-width="0.7" stroke-linejoin="round"/>
<path d="M315.50,254.32L324.46,262.67A12.25,12.25 0 0,1 303.32,253.03Z" fill="#a03644" stroke="#1c1c1c" stroke-width="0.7" stroke-linejoin="round"/>
<path d="M315.50,254.32L303.32,253.03A12.25,12.25 0 0,1 315.50,242.07Z" fill="#e5b83e" stroke="#1c1c1c" stroke-width="0.7" stroke-linejoin="round"/>
<circle cx="315.5" cy="254.32" r="12.25" fill="none" stroke="#1c1c1c" stroke-width="0.95"/>
<circle cx="355.9" cy="254.32" r="13.55" fill="none" stroke="#fff" stroke-width="1" opacity="0.6"/>
<path d="M355.90,254.32L355.90,242.07A12.25,12.25 0 0,1 368.08,253.03Z" fill="#4f6484" stroke="#1c1c1c" stroke-width="0.7" stroke-linejoin="round"/>
<path d="M355.90,254.32L368.08,253.03A12.25,12.25 0 0,1 367.41,258.50Z" fill="#79a85c" stroke="#1c1c1c" stroke-width="0.7" stroke-linejoin="round"/>
<path d="M355.90,254.32L367.41,258.50A12.25,12.25 0 0,1 343.77,256.02Z" fill="#a03644" stroke="#1c1c1c" stroke-width="0.7" stroke-linejoin="round"/>
<path d="M355.90,254.32L343.77,256.02A12.25,12.25 0 0,1 355.90,242.07Z" fill="#e5b83e" stroke="#1c1c1c" stroke-width="0.7" stroke-linejoin="round"/>
<circle cx="355.9" cy="254.32" r="12.25" fill="none" stroke="#1c1c1c" stroke-width="0.95"/>
<circle cx="396.6" cy="254.32" r="13.55" fill="none" stroke="#fff" stroke-width="1" opacity="0.6"/>
<path d="M396.60,254.32L396.60,242.07A12.25,12.25 0 0,1 408.38,250.94Z" fill="#4f6484" stroke="#1c1c1c" stroke-width="0.7" stroke-linejoin="round"/>
<path d="M396.60,254.32L408.38,250.94A12.25,12.25 0 0,1 403.80,264.23Z" fill="#79a85c" stroke="#1c1c1c" stroke-width="0.7" stroke-linejoin="round"/>
<path d="M396.60,254.32L403.80,264.23A12.25,12.25 0 0,1 384.54,256.44Z" fill="#a03644" stroke="#1c1c1c" stroke-width="0.7" stroke-linejoin="round"/>
<path d="M396.60,254.32L384.54,256.44A12.25,12.25 0 0,1 396.60,242.07Z" fill="#e5b83e" stroke="#1c1c1c" stroke-width="0.7" stroke-linejoin="round"/>
<circle cx="396.6" cy="254.32" r="12.25" fill="none" stroke="#1c1c1c" stroke-width="0.95"/>
<circle cx="438.9" cy="254.32" r="13.55" fill="none" stroke="#fff" stroke-width="1" opacity="0.6"/>
<path d="M438.90,254.32L438.90,242.07A12.25,12.25 0 0,1 449.51,248.19Z" fill="#4f6484" stroke="#1c1c1c" stroke-width="0.7" stroke-linejoin="round"/>
<path d="M438.90,254.32L449.51,248.19A12.25,12.25 0 0,1 435.11,265.97Z" fill="#79a85c" stroke="#1c1c1c" stroke-width="0.7" stroke-linejoin="round"/>
<path d="M438.90,254.32L435.11,265.97A12.25,12.25 0 0,1 427.99,248.75Z" fill="#a03644" stroke="#1c1c1c" stroke-width="0.7" stroke-linejoin="round"/>
<path d="M438.90,254.32L427.99,248.75A12.25,12.25 0 0,1 438.90,242.07Z" fill="#e5b83e" stroke="#1c1c1c" stroke-width="0.7" stroke-linejoin="round"/>
<circle cx="438.9" cy="254.32" r="12.25" fill="none" stroke="#1c1c1c" stroke-width="0.95"/>
<circle cx="481.0" cy="254.32" r="13.55" fill="none" stroke="#fff" stroke-width="1" opacity="0.6"/>
<path d="M481.00,254.32L481.00,242.07A12.25,12.25 0 0,1 491.61,248.19Z" fill="#4f6484" stroke="#1c1c1c" stroke-width="0.7" stroke-linejoin="round"/>
<path d="M481.00,254.32L491.61,248.19A12.25,12.25 0 0,1 477.62,266.09Z" fill="#79a85c" stroke="#1c1c1c" stroke-width="0.7" stroke-linejoin="round"/>
<path d="M481.00,254.32L477.62,266.09A12.25,12.25 0 0,1 469.49,250.13Z" fill="#a03644" stroke="#1c1c1c" stroke-width="0.7" stroke-linejoin="round"/>
<path d="M481.00,254.32L469.49,250.13A12.25,12.25 0 0,1 481.00,242.07Z" fill="#e5b83e" stroke="#1c1c1c" stroke-width="0.7" stroke-linejoin="round"/>
<circle cx="481.0" cy="254.32" r="12.25" fill="none" stroke="#1c1c1c" stroke-width="0.95"/>
<circle cx="234.6" cy="283.22" r="13.55" fill="none" stroke="#fff" stroke-width="1" opacity="0.6"/>
<path d="M234.60,283.22L234.60,270.97A12.25,12.25 0 0,1 241.63,273.19Z" fill="#4f6484" stroke="#1c1c1c" stroke-width="0.7" stroke-linejoin="round"/>
<path d="M234.60,283.22L241.63,273.19A12.25,12.25 0 0,1 244.99,289.72Z" fill="#79a85c" stroke="#1c1c1c" stroke-width="0.7" stroke-linejoin="round"/>
<path d="M234.60,283.22L244.99,289.72A12.25,12.25 0 0,1 228.66,293.94Z" fill="#a03644" stroke="#1c1c1c" stroke-width="0.7" stroke-linejoin="round"/>
<path d="M234.60,283.22L228.66,293.94A12.25,12.25 0 0,1 234.60,270.97Z" fill="#e5b83e" stroke="#1c1c1c" stroke-width="0.7" stroke-linejoin="round"/>
<circle cx="234.6" cy="283.22" r="12.25" fill="none" stroke="#1c1c1c" stroke-width="0.95"/>
<circle cx="274.8" cy="283.22" r="13.55" fill="none" stroke="#fff" stroke-width="1" opacity="0.6"/>
<path d="M274.80,283.22L274.80,270.97A12.25,12.25 0 0,1 285.71,277.66Z" fill="#4f6484" stroke="#1c1c1c" stroke-width="0.7" stroke-linejoin="round"/>
<path d="M274.80,283.22L285.71,277.66A12.25,12.25 0 0,1 284.96,290.08Z" fill="#79a85c" stroke="#1c1c1c" stroke-width="0.7" stroke-linejoin="round"/>
<path d="M274.80,283.22L284.96,290.08A12.25,12.25 0 0,1 265.02,290.60Z" fill="#a03644" stroke="#1c1c1c" stroke-width="0.7" stroke-linejoin="round"/>
<path d="M274.80,283.22L265.02,290.60A12.25,12.25 0 0,1 274.80,270.97Z" fill="#e5b83e" stroke="#1c1c1c" stroke-width="0.7" stroke-linejoin="round"/>
<circle cx="274.8" cy="283.22" r="12.25" fill="none" stroke="#1c1c1c" stroke-width="0.95"/>
<circle cx="315.5" cy="283.22" r="13.55" fill="none" stroke="#fff" stroke-width="1" opacity="0.6"/>
<path d="M315.50,283.22L315.50,270.97A12.25,12.25 0 0,1 325.77,276.55Z" fill="#4f6484" stroke="#1c1c1c" stroke-width="0.7" stroke-linejoin="round"/>
<path d="M315.50,283.22L325.77,276.55A12.25,12.25 0 0,1 327.21,286.81Z" fill="#79a85c" stroke="#1c1c1c" stroke-width="0.7" stroke-linejoin="round"/>
<path d="M315.50,283.22L327.21,286.81A12.25,12.25 0 0,1 308.83,293.50Z" fill="#a03644" stroke="#1c1c1c" stroke-width="0.7" stroke-linejoin="round"/>
<path d="M315.50,283.22L308.83,293.50A12.25,12.25 0 0,1 315.50,270.97Z" fill="#e5b83e" stroke="#1c1c1c" stroke-width="0.7" stroke-linejoin="round"/>
<circle cx="315.5" cy="283.22" r="12.25" fill="none" stroke="#1c1c1c" stroke-width="0.95"/>
<circle cx="355.9" cy="283.22" r="13.55" fill="none" stroke="#fff" stroke-width="1" opacity="0.6"/>
<path d="M355.90,283.22L355.90,270.97A12.25,12.25 0 0,1 364.71,274.72Z" fill="#4f6484" stroke="#1c1c1c" stroke-width="0.7" stroke-linejoin="round"/>
<path d="M355.90,283.22L364.71,274.72A12.25,12.25 0 0,1 368.14,283.65Z" fill="#79a85c" stroke="#1c1c1c" stroke-width="0.7" stroke-linejoin="round"/>
<path d="M355.90,283.22L368.14,283.65A12.25,12.25 0 0,1 356.97,295.43Z" fill="#a03644" stroke="#1c1c1c" stroke-width="0.7" stroke-linejoin="round"/>
<path d="M355.90,283.22L356.97,295.43A12.25,12.25 0 1,1 355.90,270.97Z" fill="#e5b83e" stroke="#1c1c1c" stroke-width="0.7" stroke-linejoin="round"/>
<circle cx="355.9" cy="283.22" r="12.25" fill="none" stroke="#1c1c1c" stroke-width="0.95"/>
<circle cx="396.6" cy="283.22" r="13.55" fill="none" stroke="#fff" stroke-width="1" opacity="0.6"/>
<path d="M396.60,283.22L396.60,270.97A12.25,12.25 0 0,1 407.51,277.66Z" fill="#4f6484" stroke="#1c1c1c" stroke-width="0.7" stroke-linejoin="round"/>
<path d="M396.60,283.22L407.51,277.66A12.25,12.25 0 0,1 408.62,285.56Z" fill="#79a85c" stroke="#1c1c1c" stroke-width="0.7" stroke-linejoin="round"/>
<path d="M396.60,283.22L408.62,285.56A12.25,12.25 0 0,1 396.60,295.47Z" fill="#a03644" stroke="#1c1c1c" stroke-width="0.7" stroke-linejoin="round"/>
<path d="M396.60,283.22L396.60,295.47A12.25,12.25 0 0,1 396.60,270.97Z" fill="#e5b83e" stroke="#1c1c1c" stroke-width="0.7" stroke-linejoin="round"/>
<circle cx="396.6" cy="283.22" r="12.25" fill="none" stroke="#1c1c1c" stroke-width="0.95"/>
<circle cx="438.9" cy="283.22" r="13.55" fill="none" stroke="#fff" stroke-width="1" opacity="0.6"/>
<path d="M438.90,283.22L438.90,270.97A12.25,12.25 0 0,1 450.26,287.81Z" fill="#4f6484" stroke="#1c1c1c" stroke-width="0.7" stroke-linejoin="round"/>
<path d="M438.90,283.22L450.26,287.81A12.25,12.25 0 0,1 445.21,293.73Z" fill="#79a85c" stroke="#1c1c1c" stroke-width="0.7" stroke-linejoin="round"/>
<path d="M438.90,283.22L445.21,293.73A12.25,12.25 0 0,1 432.59,293.73Z" fill="#a03644" stroke="#1c1c1c" stroke-width="0.7" stroke-linejoin="round"/>
<path d="M438.90,283.22L432.59,293.73A12.25,12.25 0 0,1 438.90,270.97Z" fill="#e5b83e" stroke="#1c1c1c" stroke-width="0.7" stroke-linejoin="round"/>
<circle cx="438.9" cy="283.22" r="12.25" fill="none" stroke="#1c1c1c" stroke-width="0.95"/>
<circle cx="481.0" cy="283.22" r="13.55" fill="none" stroke="#fff" stroke-width="1" opacity="0.6"/>
<path d="M481.00,283.22L481.00,270.97A12.25,12.25 0 0,1 491.82,288.98Z" fill="#4f6484" stroke="#1c1c1c" stroke-width="0.7" stroke-linejoin="round"/>
<path d="M481.00,283.22L491.82,288.98A12.25,12.25 0 0,1 484.38,295.00Z" fill="#79a85c" stroke="#1c1c1c" stroke-width="0.7" stroke-linejoin="round"/>
<path d="M481.00,283.22L484.38,295.00A12.25,12.25 0 0,1 470.61,289.72Z" fill="#a03644" stroke="#1c1c1c" stroke-width="0.7" stroke-linejoin="round"/>
<path d="M481.00,283.22L470.61,289.72A12.25,12.25 0 0,1 481.00,270.97Z" fill="#e5b83e" stroke="#1c1c1c" stroke-width="0.7" stroke-linejoin="round"/>
<circle cx="481.0" cy="283.22" r="12.25" fill="none" stroke="#1c1c1c" stroke-width="0.95"/>
<circle cx="234.6" cy="312.13" r="13.55" fill="none" stroke="#fff" stroke-width="1" opacity="0.6"/>
<path d="M234.60,312.13L234.60,299.88A12.25,12.25 0 0,1 244.99,305.64Z" fill="#4f6484" stroke="#1c1c1c" stroke-width="0.7" stroke-linejoin="round"/>
<path d="M234.60,312.13L244.99,305.64A12.25,12.25 0 0,1 245.70,317.31Z" fill="#79a85c" stroke="#1c1c1c" stroke-width="0.7" stroke-linejoin="round"/>
<path d="M234.60,312.13L245.70,317.31A12.25,12.25 0 0,1 222.36,311.71Z" fill="#a03644" stroke="#1c1c1c" stroke-width="0.7" stroke-linejoin="round"/>
<path d="M234.60,312.13L222.36,311.71A12.25,12.25 0 0,1 234.60,299.88Z" fill="#e5b83e" stroke="#1c1c1c" stroke-width="0.7" stroke-linejoin="round"/>
<circle cx="234.6" cy="312.13" r="12.25" fill="none" stroke="#1c1c1c" stroke-width="0.95"/>
<circle cx="274.8" cy="312.13" r="13.55" fill="none" stroke="#fff" stroke-width="1" opacity="0.6"/>
<path d="M274.80,312.13L274.80,299.88A12.25,12.25 0 0,1 286.69,309.17Z" fill="#4f6484" stroke="#1c1c1c" stroke-width="0.7" stroke-linejoin="round"/>
<path d="M274.80,312.13L286.69,309.17A12.25,12.25 0 0,1 285.90,317.31Z" fill="#79a85c" stroke="#1c1c1c" stroke-width="0.7" stroke-linejoin="round"/>
<path d="M274.80,312.13L285.90,317.31A12.25,12.25 0 0,1 262.97,308.96Z" fill="#a03644" stroke="#1c1c1c" stroke-width="0.7" stroke-linejoin="round"/>
<path d="M274.80,312.13L262.97,308.96A12.25,12.25 0 0,1 274.80,299.88Z" fill="#e5b83e" stroke="#1c1c1c" stroke-width="0.7" stroke-linejoin="round"/>
<circle cx="274.8" cy="312.13" r="12.25" fill="none" stroke="#1c1c1c" stroke-width="0.95"/>
<circle cx="315.5" cy="312.13" r="13.55" fill="none" stroke="#fff" stroke-width="1" opacity="0.6"/>
<path d="M315.50,312.13L315.50,299.88A12.25,12.25 0 0,1 327.39,309.17Z" fill="#4f6484" stroke="#1c1c1c" stroke-width="0.7" stroke-linejoin="round"/>
<path d="M315.50,312.13L327.39,309.17A12.25,12.25 0 0,1 327.56,314.26Z" fill="#79a85c" stroke="#1c1c1c" stroke-width="0.7" stroke-linejoin="round"/>
<path d="M315.50,312.13L327.56,314.26A12.25,12.25 0 0,1 303.28,311.28Z" fill="#a03644" stroke="#1c1c1c" stroke-width="0.7" stroke-linejoin="round"/>
<path d="M315.50,312.13L303.28,311.28A12.25,12.25 0 0,1 315.50,299.88Z" fill="#e5b83e" stroke="#1c1c1c" stroke-width="0.7" stroke-linejoin="round"/>
<circle cx="315.5" cy="312.13" r="12.25" fill="none" stroke="#1c1c1c" stroke-width="0.95"/>
<circle cx="396.6" cy="312.13" r="13.55" fill="none" stroke="#fff" stroke-width="1" opacity="0.6"/>
<path d="M396.60,312.13L396.60,299.88A12.25,12.25 0 0,1 406.99,305.64Z" fill="#4f6484" stroke="#1c1c1c" stroke-width="0.7" stroke-linejoin="round"/>
<path d="M396.60,312.13L406.99,305.64A12.25,12.25 0 0,1 408.78,313.42Z" fill="#79a85c" stroke="#1c1c1c" stroke-width="0.7" stroke-linejoin="round"/>
<path d="M396.60,312.13L408.78,313.42A12.25,12.25 0 0,1 384.36,312.56Z" fill="#a03644" stroke="#1c1c1c" stroke-width="0.7" stroke-linejoin="round"/>
<path d="M396.60,312.13L384.36,312.56A12.25,12.25 0 0,1 396.60,299.88Z" fill="#e5b83e" stroke="#1c1c1c" stroke-width="0.7" stroke-linejoin="round"/>
<circle cx="396.6" cy="312.13" r="12.25" fill="none" stroke="#1c1c1c" stroke-width="0.95"/>
<circle cx="438.9" cy="312.13" r="13.55" fill="none" stroke="#fff" stroke-width="1" opacity="0.6"/>
<path d="M438.90,312.13L438.90,299.88A12.25,12.25 0 0,1 449.29,305.64Z" fill="#4f6484" stroke="#1c1c1c" stroke-width="0.7" stroke-linejoin="round"/>
<path d="M438.90,312.13L449.29,305.64A12.25,12.25 0 0,1 450.96,314.26Z" fill="#79a85c" stroke="#1c1c1c" stroke-width="0.7" stroke-linejoin="round"/>
<path d="M438.90,312.13L450.96,314.26A12.25,12.25 0 0,1 426.68,312.99Z" fill="#a03644" stroke="#1c1c1c" stroke-width="0.7" stroke-linejoin="round"/>
<path d="M438.90,312.13L426.68,312.99A12.25,12.25 0 0,1 438.90,299.88Z" fill="#e5b83e" stroke="#1c1c1c" stroke-width="0.7" stroke-linejoin="round"/>
<circle cx="438.9" cy="312.13" r="12.25" fill="none" stroke="#1c1c1c" stroke-width="0.95"/>
<circle cx="481.0" cy="312.13" r="13.55" fill="none" stroke="#fff" stroke-width="1" opacity="0.6"/>
<path d="M481.00,312.13L481.00,299.88A12.25,12.25 0 0,1 491.39,305.64Z" fill="#4f6484" stroke="#1c1c1c" stroke-width="0.7" stroke-linejoin="round"/>
<path d="M481.00,312.13L491.39,305.64A12.25,12.25 0 0,1 491.39,318.63Z" fill="#79a85c" stroke="#1c1c1c" stroke-width="0.7" stroke-linejoin="round"/>
<path d="M481.00,312.13L491.39,318.63A12.25,12.25 0 0,1 468.94,310.01Z" fill="#a03644" stroke="#1c1c1c" stroke-width="0.7" stroke-linejoin="round"/>
<path d="M481.00,312.13L468.94,310.01A12.25,12.25 0 0,1 481.00,299.88Z" fill="#e5b83e" stroke="#1c1c1c" stroke-width="0.7" stroke-linejoin="round"/>
<circle cx="481.0" cy="312.13" r="12.25" fill="none" stroke="#1c1c1c" stroke-width="0.95"/>
<circle cx="234.6" cy="341.05" r="13.55" fill="none" stroke="#fff" stroke-width="1" opacity="0.6"/>
<path d="M234.60,341.05L234.60,328.80A12.25,12.25 0 0,1 243.41,332.54Z" fill="#4f6484" stroke="#1c1c1c" stroke-width="0.7" stroke-linejoin="round"/>
<path d="M234.60,341.05L243.41,332.54A12.25,12.25 0 0,1 246.49,338.08Z" fill="#79a85c" stroke="#1c1c1c" stroke-width="0.7" stroke-linejoin="round"/>
<path d="M234.60,341.05L246.49,338.08A12.25,12.25 0 0,1 223.78,346.80Z" fill="#a03644" stroke="#1c1c1c" stroke-width="0.7" stroke-linejoin="round"/>
<path d="M234.60,341.05L223.78,346.80A12.25,12.25 0 0,1 234.60,328.80Z" fill="#e5b83e" stroke="#1c1c1c" stroke-width="0.7" stroke-linejoin="round"/>
<circle cx="234.6" cy="341.05" r="12.25" fill="none" stroke="#1c1c1c" stroke-width="0.95"/>
<circle cx="274.8" cy="341.05" r="13.55" fill="none" stroke="#fff" stroke-width="1" opacity="0.6"/>
<path d="M274.80,341.05L274.80,328.80A12.25,12.25 0 0,1 286.38,337.06Z" fill="#4f6484" stroke="#1c1c1c" stroke-width="0.7" stroke-linejoin="round"/>
<path d="M274.80,341.05L286.38,337.06A12.25,12.25 0 0,1 287.05,341.05Z" fill="#79a85c" stroke="#1c1c1c" stroke-width="0.7" stroke-linejoin="round"/>
<path d="M274.80,341.05L287.05,341.05A12.25,12.25 0 0,1 264.19,347.17Z" fill="#a03644" stroke="#1c1c1c" stroke-width="0.7" stroke-linejoin="round"/>
<path d="M274.80,341.05L264.19,347.17A12.25,12.25 0 0,1 274.80,328.80Z" fill="#e5b83e" stroke="#1c1c1c" stroke-width="0.7" stroke-linejoin="round"/>
<circle cx="274.8" cy="341.05" r="12.25" fill="none" stroke="#1c1c1c" stroke-width="0.95"/>
<circle cx="315.5" cy="341.05" r="13.55" fill="none" stroke="#fff" stroke-width="1" opacity="0.6"/>
<path d="M315.50,341.05L315.50,328.80A12.25,12.25 0 0,1 327.68,339.76Z" fill="#4f6484" stroke="#1c1c1c" stroke-width="0.7" stroke-linejoin="round"/>
<path d="M315.50,341.05L327.68,339.76A12.25,12.25 0 0,1 327.21,344.63Z" fill="#79a85c" stroke="#1c1c1c" stroke-width="0.7" stroke-linejoin="round"/>
<path d="M315.50,341.05L327.21,344.63A12.25,12.25 0 0,1 303.25,341.05Z" fill="#a03644" stroke="#1c1c1c" stroke-width="0.7" stroke-linejoin="round"/>
<path d="M315.50,341.05L303.25,341.05A12.25,12.25 0 0,1 315.50,328.80Z" fill="#e5b83e" stroke="#1c1c1c" stroke-width="0.7" stroke-linejoin="round"/>
<circle cx="315.5" cy="341.05" r="12.25" fill="none" stroke="#1c1c1c" stroke-width="0.95"/>
<circle cx="355.9" cy="341.05" r="13.55" fill="none" stroke="#fff" stroke-width="1" opacity="0.6"/>
<path d="M355.90,341.05L355.90,328.80A12.25,12.25 0 0,1 367.96,338.92Z" fill="#4f6484" stroke="#1c1c1c" stroke-width="0.7" stroke-linejoin="round"/>
<path d="M355.90,341.05L367.96,338.92A12.25,12.25 0 0,1 367.26,345.63Z" fill="#79a85c" stroke="#1c1c1c" stroke-width="0.7" stroke-linejoin="round"/>
<path d="M355.90,341.05L367.26,345.63A12.25,12.25 0 0,1 344.54,345.63Z" fill="#a03644" stroke="#1c1c1c" stroke-width="0.7" stroke-linejoin="round"/>
<path d="M355.90,341.05L344.54,345.63A12.25,12.25 0 0,1 355.90,328.80Z" fill="#e5b83e" stroke="#1c1c1c" stroke-width="0.7" stroke-linejoin="round"/>
<circle cx="355.9" cy="341.05" r="12.25" fill="none" stroke="#1c1c1c" stroke-width="0.95"/>
<circle cx="396.6" cy="341.05" r="13.55" fill="none" stroke="#fff" stroke-width="1" opacity="0.6"/>
<path d="M396.60,341.05L396.60,328.80A12.25,12.25 0 0,1 408.78,339.76Z" fill="#4f6484" stroke="#1c1c1c" stroke-width="0.7" stroke-linejoin="round"/>
<path d="M396.60,341.05L408.78,339.76A12.25,12.25 0 0,1 408.85,341.05Z" fill="#79a85c" stroke="#1c1c1c" stroke-width="0.7" stroke-linejoin="round"/>
<path d="M396.60,341.05L408.85,341.05A12.25,12.25 0 0,1 391.23,352.06Z" fill="#a03644" stroke="#1c1c1c" stroke-width="0.7" stroke-linejoin="round"/>
<path d="M396.60,341.05L391.23,352.06A12.25,12.25 0 0,1 396.60,328.80Z" fill="#e5b83e" stroke="#1c1c1c" stroke-width="0.7" stroke-linejoin="round"/>
<circle cx="396.6" cy="341.05" r="12.25" fill="none" stroke="#1c1c1c" stroke-width="0.95"/>
<circle cx="438.9" cy="341.05" r="13.55" fill="none" stroke="#fff" stroke-width="1" opacity="0.6"/>
<path d="M438.90,341.05L438.90,328.80A12.25,12.25 0 0,1 447.56,349.71Z" fill="#4f6484" stroke="#1c1c1c" stroke-width="0.7" stroke-linejoin="round"/>
<path d="M438.90,341.05L447.56,349.71A12.25,12.25 0 0,1 444.65,351.86Z" fill="#79a85c" stroke="#1c1c1c" stroke-width="0.7" stroke-linejoin="round"/>
<path d="M438.90,341.05L444.65,351.86A12.25,12.25 0 0,1 426.72,342.33Z" fill="#a03644" stroke="#1c1c1c" stroke-width="0.7" stroke-linejoin="round"/>
<path d="M438.90,341.05L426.72,342.33A12.25,12.25 0 0,1 438.90,328.80Z" fill="#e5b83e" stroke="#1c1c1c" stroke-width="0.7" stroke-linejoin="round"/>
<circle cx="438.9" cy="341.05" r="12.25" fill="none" stroke="#1c1c1c" stroke-width="0.95"/>
<circle cx="481.0" cy="341.05" r="13.55" fill="none" stroke="#fff" stroke-width="1" opacity="0.6"/>
<path d="M481.00,341.05L481.00,328.80A12.25,12.25 0 0,1 493.18,342.33Z" fill="#4f6484" stroke="#1c1c1c" stroke-width="0.7" stroke-linejoin="round"/>
<path d="M481.00,341.05L493.18,342.33A12.25,12.25 0 0,1 492.83,344.22Z" fill="#79a85c" stroke="#1c1c1c" stroke-width="0.7" stroke-linejoin="round"/>
<path d="M481.00,341.05L492.83,344.22A12.25,12.25 0 0,1 469.81,346.03Z" fill="#a03644" stroke="#1c1c1c" stroke-width="0.7" stroke-linejoin="round"/>
<path d="M481.00,341.05L469.81,346.03A12.25,12.25 0 0,1 481.00,328.80Z" fill="#e5b83e" stroke="#1c1c1c" stroke-width="0.7" stroke-linejoin="round"/>
<circle cx="481.0" cy="341.05" r="12.25" fill="none" stroke="#1c1c1c" stroke-width="0.95"/>
<circle cx="234.6" cy="369.95" r="13.55" fill="none" stroke="#fff" stroke-width="1" opacity="0.6"/>
<path d="M234.60,369.95L234.60,357.70A12.25,12.25 0 0,1 237.15,357.97Z" fill="#4f6484" stroke="#1c1c1c" stroke-width="0.7" stroke-linejoin="round"/>
<path d="M234.60,369.95L237.15,357.97A12.25,12.25 0 0,1 246.78,368.67Z" fill="#79a85c" stroke="#1c1c1c" stroke-width="0.7" stroke-linejoin="round"/>
<path d="M234.60,369.95L246.78,368.67A12.25,12.25 0 0,1 238.99,381.39Z" fill="#a03644" stroke="#1c1c1c" stroke-width="0.7" stroke-linejoin="round"/>
<path d="M234.60,369.95L238.99,381.39A12.25,12.25 0 1,1 234.60,357.70Z" fill="#e5b83e" stroke="#1c1c1c" stroke-width="0.7" stroke-linejoin="round"/>
<circle cx="234.6" cy="369.95" r="12.25" fill="none" stroke="#1c1c1c" stroke-width="0.95"/>
<circle cx="274.8" cy="369.95" r="13.55" fill="none" stroke="#fff" stroke-width="1" opacity="0.6"/>
<path d="M274.80,369.95L274.80,357.70A12.25,12.25 0 0,1 280.93,359.35Z" fill="#4f6484" stroke="#1c1c1c" stroke-width="0.7" stroke-linejoin="round"/>
<path d="M274.80,369.95L280.93,359.35A12.25,12.25 0 0,1 287.05,369.95Z" fill="#79a85c" stroke="#1c1c1c" stroke-width="0.7" stroke-linejoin="round"/>
<path d="M274.80,369.95L287.05,369.95A12.25,12.25 0 0,1 280.93,380.56Z" fill="#a03644" stroke="#1c1c1c" stroke-width="0.7" stroke-linejoin="round"/>
<path d="M274.80,369.95L280.93,380.56A12.25,12.25 0 1,1 274.80,357.70Z" fill="#e5b83e" stroke="#1c1c1c" stroke-width="0.7" stroke-linejoin="round"/>
<circle cx="274.8" cy="369.95" r="12.25" fill="none" stroke="#1c1c1c" stroke-width="0.95"/>
<circle cx="315.5" cy="369.95" r="13.55" fill="none" stroke="#fff" stroke-width="1" opacity="0.6"/>
<path d="M315.50,369.95L315.50,357.70A12.25,12.25 0 0,1 321.99,359.57Z" fill="#4f6484" stroke="#1c1c1c" stroke-width="0.7" stroke-linejoin="round"/>
<path d="M315.50,369.95L321.99,359.57A12.25,12.25 0 0,1 327.63,368.25Z" fill="#79a85c" stroke="#1c1c1c" stroke-width="0.7" stroke-linejoin="round"/>
<path d="M315.50,369.95L327.63,368.25A12.25,12.25 0 0,1 321.99,380.34Z" fill="#a03644" stroke="#1c1c1c" stroke-width="0.7" stroke-linejoin="round"/>
<path d="M315.50,369.95L321.99,380.34A12.25,12.25 0 1,1 315.50,357.70Z" fill="#e5b83e" stroke="#1c1c1c" stroke-width="0.7" stroke-linejoin="round"/>
<circle cx="315.5" cy="369.95" r="12.25" fill="none" stroke="#1c1c1c" stroke-width="0.95"/>
<circle cx="355.9" cy="369.95" r="13.55" fill="none" stroke="#fff" stroke-width="1" opacity="0.6"/>
<path d="M355.90,369.95L355.90,357.70A12.25,12.25 0 0,1 362.75,359.80Z" fill="#4f6484" stroke="#1c1c1c" stroke-width="0.7" stroke-linejoin="round"/>
<path d="M355.90,369.95L362.75,359.80A12.25,12.25 0 0,1 366.40,363.65Z" fill="#79a85c" stroke="#1c1c1c" stroke-width="0.7" stroke-linejoin="round"/>
<path d="M355.90,369.95L366.40,363.65A12.25,12.25 0 0,1 360.29,381.39Z" fill="#a03644" stroke="#1c1c1c" stroke-width="0.7" stroke-linejoin="round"/>
<path d="M355.90,369.95L360.29,381.39A12.25,12.25 0 1,1 355.90,357.70Z" fill="#e5b83e" stroke="#1c1c1c" stroke-width="0.7" stroke-linejoin="round"/>
<circle cx="355.9" cy="369.95" r="12.25" fill="none" stroke="#1c1c1c" stroke-width="0.95"/>
<circle cx="396.6" cy="369.95" r="13.55" fill="none" stroke="#fff" stroke-width="1" opacity="0.6"/>
<path d="M396.60,369.95L396.60,357.70A12.25,12.25 0 0,1 405.26,361.29Z" fill="#4f6484" stroke="#1c1c1c" stroke-width="0.7" stroke-linejoin="round"/>
<path d="M396.60,369.95L405.26,361.29A12.25,12.25 0 0,1 408.38,366.58Z" fill="#79a85c" stroke="#1c1c1c" stroke-width="0.7" stroke-linejoin="round"/>
<path d="M396.60,369.95L408.38,366.58A12.25,12.25 0 0,1 402.73,380.56Z" fill="#a03644" stroke="#1c1c1c" stroke-width="0.7" stroke-linejoin="round"/>
<path d="M396.60,369.95L402.73,380.56A12.25,12.25 0 1,1 396.60,357.70Z" fill="#e5b83e" stroke="#1c1c1c" stroke-width="0.7" stroke-linejoin="round"/>
<circle cx="396.6" cy="369.95" r="12.25" fill="none" stroke="#1c1c1c" stroke-width="0.95"/>
<circle cx="438.9" cy="369.95" r="13.55" fill="none" stroke="#fff" stroke-width="1" opacity="0.6"/>
<path d="M438.90,369.95L438.90,357.70A12.25,12.25 0 0,1 446.77,360.57Z" fill="#4f6484" stroke="#1c1c1c" stroke-width="0.7" stroke-linejoin="round"/>
<path d="M438.90,369.95L446.77,360.57A12.25,12.25 0 0,1 450.84,367.20Z" fill="#79a85c" stroke="#1c1c1c" stroke-width="0.7" stroke-linejoin="round"/>
<path d="M438.90,369.95L450.84,367.20A12.25,12.25 0 0,1 442.89,381.54Z" fill="#a03644" stroke="#1c1c1c" stroke-width="0.7" stroke-linejoin="round"/>
<path d="M438.90,369.95L442.89,381.54A12.25,12.25 0 1,1 438.90,357.70Z" fill="#e5b83e" stroke="#1c1c1c" stroke-width="0.7" stroke-linejoin="round"/>
<circle cx="438.9" cy="369.95" r="12.25" fill="none" stroke="#1c1c1c" stroke-width="0.95"/>
<circle cx="234.6" cy="398.86" r="13.55" fill="none" stroke="#fff" stroke-width="1" opacity="0.6"/>
<path d="M234.60,398.86L234.60,386.61A12.25,12.25 0 0,1 243.56,390.51Z" fill="#4f6484" stroke="#1c1c1c" stroke-width="0.7" stroke-linejoin="round"/>
<path d="M234.60,398.86L243.56,390.51A12.25,12.25 0 0,1 246.66,396.74Z" fill="#79a85c" stroke="#1c1c1c" stroke-width="0.7" stroke-linejoin="round"/>
<path d="M234.60,398.86L246.66,396.74A12.25,12.25 0 0,1 228.66,409.58Z" fill="#a03644" stroke="#1c1c1c" stroke-width="0.7" stroke-linejoin="round"/>
<path d="M234.60,398.86L228.66,409.58A12.25,12.25 0 0,1 234.60,386.61Z" fill="#e5b83e" stroke="#1c1c1c" stroke-width="0.7" stroke-linejoin="round"/>
<circle cx="234.6" cy="398.86" r="12.25" fill="none" stroke="#1c1c1c" stroke-width="0.95"/>
<circle cx="274.8" cy="398.86" r="13.55" fill="none" stroke="#fff" stroke-width="1" opacity="0.6"/>
<path d="M274.80,398.86L274.80,386.61A12.25,12.25 0 0,1 284.71,391.66Z" fill="#4f6484" stroke="#1c1c1c" stroke-width="0.7" stroke-linejoin="round"/>
<path d="M274.80,398.86L284.71,391.66A12.25,12.25 0 0,1 286.98,397.58Z" fill="#79a85c" stroke="#1c1c1c" stroke-width="0.7" stroke-linejoin="round"/>
<path d="M274.80,398.86L286.98,397.58A12.25,12.25 0 0,1 267.26,408.52Z" fill="#a03644" stroke="#1c1c1c" stroke-width="0.7" stroke-linejoin="round"/>
<path d="M274.80,398.86L267.26,408.52A12.25,12.25 0 0,1 274.80,386.61Z" fill="#e5b83e" stroke="#1c1c1c" stroke-width="0.7" stroke-linejoin="round"/>
<circle cx="274.8" cy="398.86" r="12.25" fill="none" stroke="#1c1c1c" stroke-width="0.95"/>
<circle cx="315.5" cy="398.86" r="13.55" fill="none" stroke="#fff" stroke-width="1" opacity="0.6"/>
<path d="M315.50,398.86L315.50,386.61A12.25,12.25 0 0,1 325.28,391.49Z" fill="#4f6484" stroke="#1c1c1c" stroke-width="0.7" stroke-linejoin="round"/>
<path d="M315.50,398.86L325.28,391.49A12.25,12.25 0 0,1 327.68,400.15Z" fill="#79a85c" stroke="#1c1c1c" stroke-width="0.7" stroke-linejoin="round"/>
<path d="M315.50,398.86L327.68,400.15A12.25,12.25 0 0,1 306.69,407.37Z" fill="#a03644" stroke="#1c1c1c" stroke-width="0.7" stroke-linejoin="round"/>
<path d="M315.50,398.86L306.69,407.37A12.25,12.25 0 0,1 315.50,386.61Z" fill="#e5b83e" stroke="#1c1c1c" stroke-width="0.7" stroke-linejoin="round"/>
<circle cx="315.5" cy="398.86" r="12.25" fill="none" stroke="#1c1c1c" stroke-width="0.95"/>
<circle cx="355.9" cy="398.86" r="13.55" fill="none" stroke="#fff" stroke-width="1" opacity="0.6"/>
<path d="M355.90,398.86L355.90,386.61A12.25,12.25 0 0,1 365.81,391.66Z" fill="#4f6484" stroke="#1c1c1c" stroke-width="0.7" stroke-linejoin="round"/>
<path d="M355.90,398.86L365.81,391.66A12.25,12.25 0 0,1 367.73,395.69Z" fill="#79a85c" stroke="#1c1c1c" stroke-width="0.7" stroke-linejoin="round"/>
<path d="M355.90,398.86L367.73,395.69A12.25,12.25 0 0,1 346.94,407.22Z" fill="#a03644" stroke="#1c1c1c" stroke-width="0.7" stroke-linejoin="round"/>
<path d="M355.90,398.86L346.94,407.22A12.25,12.25 0 0,1 355.90,386.61Z" fill="#e5b83e" stroke="#1c1c1c" stroke-width="0.7" stroke-linejoin="round"/>
<circle cx="355.9" cy="398.86" r="12.25" fill="none" stroke="#1c1c1c" stroke-width="0.95"/>
<circle cx="396.6" cy="398.86" r="13.55" fill="none" stroke="#fff" stroke-width="1" opacity="0.6"/>
<path d="M396.60,398.86L396.60,386.61A12.25,12.25 0 0,1 408.43,395.69Z" fill="#4f6484" stroke="#1c1c1c" stroke-width="0.7" stroke-linejoin="round"/>
<path d="M396.60,398.86L408.43,395.69A12.25,12.25 0 0,1 408.18,402.85Z" fill="#79a85c" stroke="#1c1c1c" stroke-width="0.7" stroke-linejoin="round"/>
<path d="M396.60,398.86L408.18,402.85A12.25,12.25 0 0,1 390.66,409.58Z" fill="#a03644" stroke="#1c1c1c" stroke-width="0.7" stroke-linejoin="round"/>
<path d="M396.60,398.86L390.66,409.58A12.25,12.25 0 0,1 396.60,386.61Z" fill="#e5b83e" stroke="#1c1c1c" stroke-width="0.7" stroke-linejoin="round"/>
<circle cx="396.6" cy="398.86" r="12.25" fill="none" stroke="#1c1c1c" stroke-width="0.95"/>
<circle cx="438.9" cy="398.86" r="13.55" fill="none" stroke="#fff" stroke-width="1" opacity="0.6"/>
<path d="M438.90,398.86L438.90,386.61A12.25,12.25 0 0,1 450.96,396.74Z" fill="#4f6484" stroke="#1c1c1c" stroke-width="0.7" stroke-linejoin="round"/>
<path d="M438.90,398.86L450.96,396.74A12.25,12.25 0 0,1 449.91,404.24Z" fill="#79a85c" stroke="#1c1c1c" stroke-width="0.7" stroke-linejoin="round"/>
<path d="M438.90,398.86L449.91,404.24A12.25,12.25 0 0,1 430.09,407.37Z" fill="#a03644" stroke="#1c1c1c" stroke-width="0.7" stroke-linejoin="round"/>
<path d="M438.90,398.86L430.09,407.37A12.25,12.25 0 0,1 438.90,386.61Z" fill="#e5b83e" stroke="#1c1c1c" stroke-width="0.7" stroke-linejoin="round"/>
<circle cx="438.9" cy="398.86" r="12.25" fill="none" stroke="#1c1c1c" stroke-width="0.95"/>
<circle cx="481.0" cy="398.86" r="13.55" fill="none" stroke="#fff" stroke-width="1" opacity="0.6"/>
<path d="M481.00,398.86L481.00,386.61A12.25,12.25 0 0,1 492.71,395.28Z" fill="#4f6484" stroke="#1c1c1c" stroke-width="0.7" stroke-linejoin="round"/>
<path d="M481.00,398.86L492.71,395.28A12.25,12.25 0 0,1 493.02,401.20Z" fill="#79a85c" stroke="#1c1c1c" stroke-width="0.7" stroke-linejoin="round"/>
<path d="M481.00,398.86L493.02,401.20A12.25,12.25 0 0,1 470.97,405.89Z" fill="#a03644" stroke="#1c1c1c" stroke-width="0.7" stroke-linejoin="round"/>
<path d="M481.00,398.86L470.97,405.89A12.25,12.25 0 0,1 481.00,386.61Z" fill="#e5b83e" stroke="#1c1c1c" stroke-width="0.7" stroke-linejoin="round"/>
<circle cx="481.0" cy="398.86" r="12.25" fill="none" stroke="#1c1c1c" stroke-width="0.95"/>
<text transform="translate(10.2,450.8) scale(0.9,1)" font-size="16.5" fill="#111">B</text>
<polyline points="121.0,595.9 179.5,597.2 238.1,598.5 296.6,592.0 355.1,588.1 413.6,583.5 472.1,589.4" fill="none" stroke="#7890b0" stroke-width="1.6" stroke-linejoin="round"/>
<polyline points="121.0,595.9 179.5,601.1 238.1,598.5 296.6,597.9 355.1,591.3 413.6,588.1 472.1,590.7" fill="none" stroke="#a0a0a0" stroke-width="1.6" stroke-linejoin="round"/>
<polyline points="121.0,595.9 179.5,602.4 238.1,601.5 296.6,599.8 355.1,601.1 413.6,594.6 472.1,592.6" fill="none" stroke="#e8a070" stroke-width="1.6" stroke-linejoin="round"/>
<polyline points="121.0,595.9 179.5,604.4 238.1,602.7 296.6,601.1 355.1,597.2 413.6,592.6 472.1,594.6" fill="none" stroke="#c09080" stroke-width="1.6" stroke-linejoin="round"/>
<polyline points="121.0,595.9 179.5,606.3 238.1,603.8 296.6,602.4 355.1,598.5 413.6,597.2 472.1,595.9" fill="none" stroke="#e07090" stroke-width="1.6" stroke-linejoin="round"/>
<polyline points="121.0,595.9 179.5,608.9 238.1,605.0 296.6,603.7 355.1,599.8 413.6,598.8 472.1,599.2" fill="none" stroke="#f0a060" stroke-width="1.6" stroke-linejoin="round"/>
<polyline points="121.0,595.9 179.5,610.2 238.1,605.8 296.6,605.0 355.1,602.4 413.6,601.1 472.1,601.8" fill="none" stroke="#3050a0" stroke-width="1.6" stroke-linejoin="round"/>
<polyline points="121.0,595.9 179.5,611.5 238.1,608.9 296.6,606.3 355.1,603.7 413.6,602.4 472.1,605.7" fill="none" stroke="#9080b0" stroke-width="1.6" stroke-linejoin="round"/>
<polyline points="121.0,595.9 179.5,612.2 238.1,611.5 296.6,608.9 355.1,605.0 413.6,603.7 472.1,607.6" fill="none" stroke="#a8c880" stroke-width="1.6" stroke-linejoin="round"/>
<polyline points="121.0,595.9 179.5,614.8 238.1,612.7 296.6,610.2 355.1,605.7 413.6,602.4 472.1,608.9" fill="none" stroke="#d870a0" stroke-width="1.6" stroke-linejoin="round"/>
<polyline points="121.0,595.9 179.5,615.4 238.1,615.0 296.6,611.5 355.1,602.4 413.6,599.2 472.1,602.4" fill="none" stroke="#f0b080" stroke-width="1.6" stroke-linejoin="round"/>
<polyline points="121.0,595.9 179.5,618.0 238.1,616.7 296.6,608.9 355.1,603.7 413.6,597.2 472.1,594.6" fill="none" stroke="#5060a0" stroke-width="1.6" stroke-linejoin="round"/>
<polyline points="121.0,595.9 179.5,619.3 238.1,617.7 296.6,607.6 355.1,599.8 413.6,594.6 472.1,599.2" fill="none" stroke="#b09cc8" stroke-width="1.6" stroke-linejoin="round"/>
<polyline points="121.0,595.9 179.5,621.9 238.1,614.1 296.6,605.0 355.1,598.5 413.6,592.6 472.1,590.7" fill="none" stroke="#90a8c0" stroke-width="1.6" stroke-linejoin="round"/>
<polyline points="121.0,595.9 179.5,607.6 238.1,610.2 296.6,602.4 355.1,595.9 413.6,583.5 472.1,592.6" fill="none" stroke="#e09050" stroke-width="1.6" stroke-linejoin="round"/>
<polyline points="121.0,595.9 179.5,599.2 238.1,602.4 296.6,603.7 355.1,601.1 413.6,602.4 472.1,605.7" fill="none" stroke="#808890" stroke-width="1.6" stroke-linejoin="round"/>
<polyline points="121.0,595.9 179.5,603.7 238.1,607.6 296.6,599.2 355.1,595.9 413.6,595.9 472.1,597.9" fill="none" stroke="#8aa4c4" stroke-width="1.6" stroke-linejoin="round"/>
<polyline points="121.0,595.9 179.5,613.5 238.1,610.2 296.6,604.4 355.1,601.8 413.6,597.9 472.1,600.5" fill="none" stroke="#b88888" stroke-width="1.6" stroke-linejoin="round"/>
<polyline points="121.0,595.9 179.5,607.0 238.1,599.8 296.6,597.2 355.1,595.9 413.6,593.9 472.1,595.9" fill="none" stroke="#70a070" stroke-width="1.6" stroke-linejoin="round"/>
<polyline points="121.0,595.9 179.5,616.7 238.1,612.8 296.6,606.3 355.1,600.5 413.6,596.6 472.1,598.5" fill="none" stroke="#d8b090" stroke-width="1.6" stroke-linejoin="round"/>
<polyline points="121.0,595.9 179.5,605.7 238.1,599.2 296.6,585.5 355.1,592.6 413.6,585.5 472.1,589.4" fill="none" stroke="#d88040" stroke-width="1.9" stroke-linejoin="round"/>
<polyline points="121.0,595.9 179.5,603.7 238.1,597.2 296.6,594.6 355.1,590.7 413.6,582.9 472.1,588.1" fill="none" stroke="#b06030" stroke-width="1.8" stroke-linejoin="round"/>
<polyline points="121.0,595.9 179.5,608.9 238.1,607.0 296.6,629.4 355.1,597.9 413.6,608.3 472.1,605.7" fill="none" stroke="#7a8a40" stroke-width="1.5" stroke-linejoin="round"/>
<polyline points="121.0,595.9 179.5,606.3 238.1,598.5 296.6,602.4 355.1,591.3 413.6,617.5" fill="none" stroke="#6a4a8a" stroke-width="1.5" stroke-linejoin="round"/>
<polyline points="121.0,595.9 179.5,619.6 238.1,611.5 296.6,605.7 355.1,599.8 413.6,556.8 472.1,602.4" fill="none" stroke="#b0a0c8" stroke-width="1.5" stroke-linejoin="round"/>
<polyline points="121.0,595.9 179.5,597.2 238.1,592.3 296.6,605.8 355.1,581.6 413.6,580.5 472.1,586.1" fill="none" stroke="#9a5a30" stroke-width="1.8" stroke-linejoin="round"/>
<polyline points="121.0,595.9 179.5,612.2 238.1,627.8 296.6,599.8 355.1,592.6 413.6,592.6 472.1,599.2" fill="none" stroke="#d0d8a0" stroke-width="1.5" stroke-linejoin="round"/>
<polyline points="121.0,595.9 179.5,604.4 238.1,579.2 296.6,599.8 355.1,588.1 413.6,601.1 472.1,603.7" fill="none" stroke="#c8c890" stroke-width="1.5" stroke-linejoin="round"/>
<polyline points="121.0,595.9 179.5,609.6 238.1,584.6 296.6,590.0 355.1,593.9 413.6,583.5 472.1,592.6" fill="none" stroke="#e07030" stroke-width="1.9" stroke-linejoin="round"/>
<polyline points="121.0,595.9 179.5,606.3 238.1,620.0 296.6,598.5 355.1,571.8 413.6,577.4 472.1,579.0" fill="none" stroke="#4a8ab0" stroke-width="1.5" stroke-linejoin="round"/>
<polyline points="121.0,595.9 179.5,602.4 238.1,601.5 296.6,599.8 355.1,572.3 413.6,600.0 472.1,625.8" fill="none" stroke="#a8d0e8" stroke-width="1.5" stroke-linejoin="round"/>
<polyline points="121.0,595.9 179.5,586.1 238.1,598.5 296.6,599.2 355.1,585.6 413.6,586.4 472.1,586.8" fill="none" stroke="#4a5f88" stroke-width="1.8" stroke-linejoin="round"/>
<polyline points="121.0,595.9 179.5,571.2 238.1,603.1 296.6,599.2 355.1,595.9 413.6,584.8 472.1,584.8" fill="none" stroke="#68b048" stroke-width="1.8" stroke-linejoin="round"/>
<polyline points="121.0,595.9 179.5,569.2 238.1,592.6 296.6,583.5 355.1,592.0 413.6,583.5 472.1,588.1" fill="none" stroke="#b05a50" stroke-width="1.8" stroke-linejoin="round"/>
<polyline points="121.0,595.9 179.5,614.8 238.1,605.0 296.6,633.0 355.1,605.0 413.6,551.6 472.1,612.8" fill="none" stroke="#e05080" stroke-width="1.5" stroke-linejoin="round"/>
<polyline points="121.0,595.9 179.5,611.5 238.1,586.6 296.6,610.2 355.1,638.9 413.6,502.8 472.1,617.7" fill="none" stroke="#7a3a98" stroke-width="1.5" stroke-linejoin="round"/>
<polyline points="121.0,595.9 179.5,612.2 238.1,607.0 296.6,638.0 355.1,597.2 413.6,475.5 472.1,580.3" fill="none" stroke="#55a845" stroke-width="1.5" stroke-linejoin="round"/>
<polyline points="121.0,595.9 179.5,618.0 238.1,605.8 296.6,607.3 355.1,635.0 413.6,464.4 472.1,589.4" fill="none" stroke="#2d3d96" stroke-width="1.5" stroke-linejoin="round"/>
<polyline points="121.0,595.9 179.5,592.3 238.1,582.0 296.6,635.6 355.1,512.4 413.6,591.8 472.1,610.9" fill="none" stroke="#f5e83a" stroke-width="1.6" stroke-linejoin="round"/>
<polyline points="121.0,595.9 179.5,627.1 238.1,555.2 296.6,597.9 355.1,489.5 413.6,527.5 472.1,586.1" fill="none" stroke="#111111" stroke-width="1.8" stroke-linejoin="round"/>
<polyline points="121.0,595.9 179.5,625.0 238.1,559.0 296.6,625.9 355.1,596.6 413.6,549.7 472.1,594.6" fill="none" stroke="#8cc63f" stroke-width="1.8" stroke-linejoin="round"/>
<polyline points="121.0,595.9 179.5,623.5 238.1,631.5 296.6,523.3 355.1,576.4 413.6,578.6 472.1,584.8" fill="none" stroke="#d8382a" stroke-width="1.5" stroke-linejoin="round"/>
<polyline points="121.0,595.9 179.5,599.2 238.1,524.6 296.6,590.8 355.1,601.8 413.6,588.1 472.1,595.9" fill="none" stroke="#e0358b" stroke-width="1.5" stroke-linejoin="round"/>
<line x1="93" y1="595.90" x2="501" y2="595.90" stroke="#222" stroke-width="1.4"/>
<line x1="92.8" y1="460" x2="92.8" y2="661.8" stroke="#000" stroke-width="1.6"/>
<line x1="92.3" y1="661.1" x2="501" y2="661.1" stroke="#000" stroke-width="1.6"/>
<line x1="88.4" y1="661.00" x2="93" y2="661.00" stroke="#000" stroke-width="1.4"/>
<text x="84.0" y="665.00" font-size="11" fill="#111" stroke="#111" stroke-width="0.1" text-anchor="end">0</text>
<line x1="88.4" y1="628.45" x2="93" y2="628.45" stroke="#000" stroke-width="1.4"/>
<text x="84.0" y="632.45" font-size="11" fill="#111" stroke="#111" stroke-width="0.1" text-anchor="end">0.5</text>
<line x1="88.4" y1="595.90" x2="93" y2="595.90" stroke="#000" stroke-width="1.4"/>
<text x="84.0" y="599.90" font-size="11" fill="#111" stroke="#111" stroke-width="0.1" text-anchor="end">1</text>
<line x1="88.4" y1="563.35" x2="93" y2="563.35" stroke="#000" stroke-width="1.4"/>
<text x="84.0" y="567.35" font-size="11" fill="#111" stroke="#111" stroke-width="0.1" text-anchor="end">1.5</text>
<line x1="88.4" y1="530.80" x2="93" y2="530.80" stroke="#000" stroke-width="1.4"/>
<text x="84.0" y="534.80" font-size="11" fill="#111" stroke="#111" stroke-width="0.1" text-anchor="end">2</text>
<line x1="88.4" y1="498.25" x2="93" y2="498.25" stroke="#000" stroke-width="1.4"/>
<text x="84.0" y="502.25" font-size="11" fill="#111" stroke="#111" stroke-width="0.1" text-anchor="end">2.5</text>
<line x1="88.4" y1="465.70" x2="93" y2="465.70" stroke="#000" stroke-width="1.4"/>
<text x="84.0" y="469.70" font-size="11" fill="#111" stroke="#111" stroke-width="0.1" text-anchor="end">3</text>
<text x="123.2" y="674.5" font-size="11" fill="#111" stroke="#111" stroke-width="0.1" text-anchor="middle">2</text>
<text x="180.8" y="674.5" font-size="11" fill="#111" stroke="#111" stroke-width="0.1" text-anchor="middle">7</text>
<text x="238.4" y="674.5" font-size="11" fill="#111" stroke="#111" stroke-width="0.1" text-anchor="middle">12</text>
<text x="296" y="674.5" font-size="11" fill="#111" stroke="#111" stroke-width="0.1" text-anchor="middle">16</text>
<text x="353.3" y="674.5" font-size="11" fill="#111" stroke="#111" stroke-width="0.1" text-anchor="middle">20</text>
<text x="411" y="674.5" font-size="11" fill="#111" stroke="#111" stroke-width="0.1" text-anchor="middle">24</text>
<text x="468.8" y="674.5" font-size="11" fill="#111" stroke="#111" stroke-width="0.1" text-anchor="middle">26</text>
<text x="296.3" y="692.3" font-size="11.3" fill="#111" stroke="#111" stroke-width="0.1" text-anchor="middle">Age (months)</text>
<text transform="translate(41.8,560.4) rotate(-90)" font-size="13.5" fill="#111" stroke="#111" stroke-width="0.1" text-anchor="middle">Relative change in frequency</text>
<text transform="translate(59.2,560.7) rotate(-90)" font-size="13.1" fill="#111" stroke="#111" stroke-width="0.1" text-anchor="middle">of PB GFP-pooled clones</text>
<rect x="0" y="0" width="520" height="1.8" fill="#000"/>
<rect x="0" y="0" width="1.8" height="706" fill="#000"/>
<rect x="518.3" y="0" width="1.7" height="706" fill="#000"/>
<rect x="0" y="704" width="520" height="1.5" fill="#000"/>
</svg></body></html>
